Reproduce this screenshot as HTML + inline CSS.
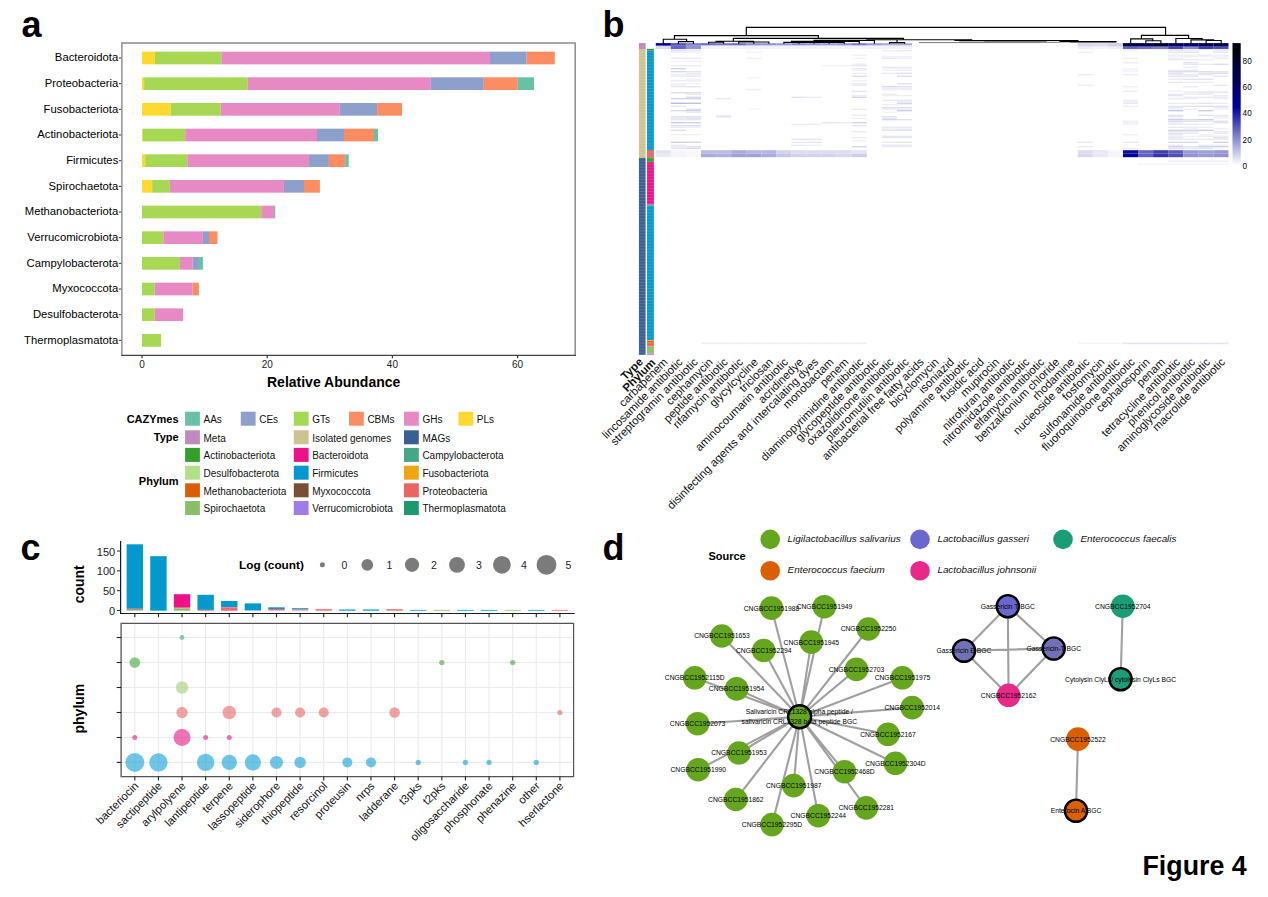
<!DOCTYPE html>
<html><head><meta charset="utf-8"><title>Figure 4</title>
<style>
html,body{margin:0;padding:0;background:#fff;}
body{width:1268px;height:897px;overflow:hidden;}
svg{display:block;font-family:"Liberation Sans",Arial,Helvetica,sans-serif;}
</style></head><body>
<svg width="1268" height="897" viewBox="0 0 1268 897">
<rect width="1268" height="897" fill="#fff"/>
<text x="21.50" y="36.60" font-size="36" text-anchor="start" font-weight="bold" fill="#000" >a</text>
<text x="602.50" y="36.60" font-size="36" text-anchor="start" font-weight="bold" fill="#000" >b</text>
<text x="20.50" y="559.60" font-size="36" text-anchor="start" font-weight="bold" fill="#000" >c</text>
<text x="602.50" y="560.30" font-size="36" text-anchor="start" font-weight="bold" fill="#000" >d</text>
<text x="1246.70" y="875.00" font-size="26.8" text-anchor="end" font-weight="bold" fill="#000" >Figure 4</text>
<rect x="142.00" y="51.65" width="13.00" height="12.70" fill="#FFD92F" />
<rect x="155.00" y="51.65" width="66.30" height="12.70" fill="#A6D854" />
<rect x="221.30" y="51.65" width="268.70" height="12.70" fill="#E78AC3" />
<rect x="490.00" y="51.65" width="36.70" height="12.70" fill="#8DA0CB" />
<rect x="526.70" y="51.65" width="28.10" height="12.70" fill="#FC8D62" />
<text x="118.30" y="61.20" font-size="11.3" text-anchor="end" fill="#000" >Bacteroidota</text>
<line x1="118.80" y1="58.00" x2="121.50" y2="58.00" stroke="#333" stroke-width="1" />
<rect x="142.00" y="77.32" width="2.10" height="12.70" fill="#FFD92F" />
<rect x="144.10" y="77.32" width="103.70" height="12.70" fill="#A6D854" />
<rect x="247.80" y="77.32" width="183.00" height="12.70" fill="#E78AC3" />
<rect x="430.80" y="77.32" width="53.00" height="12.70" fill="#8DA0CB" />
<rect x="483.80" y="77.32" width="33.90" height="12.70" fill="#FC8D62" />
<rect x="517.70" y="77.32" width="16.30" height="12.70" fill="#66C2A5" />
<text x="118.30" y="86.87" font-size="11.3" text-anchor="end" fill="#000" >Proteobacteria</text>
<line x1="118.80" y1="83.67" x2="121.50" y2="83.67" stroke="#333" stroke-width="1" />
<rect x="142.00" y="102.99" width="28.60" height="12.70" fill="#FFD92F" />
<rect x="170.60" y="102.99" width="50.00" height="12.70" fill="#A6D854" />
<rect x="220.60" y="102.99" width="119.10" height="12.70" fill="#E78AC3" />
<rect x="339.70" y="102.99" width="37.40" height="12.70" fill="#8DA0CB" />
<rect x="377.10" y="102.99" width="24.90" height="12.70" fill="#FC8D62" />
<text x="118.30" y="112.54" font-size="11.3" text-anchor="end" fill="#000" >Fusobacteriota</text>
<line x1="118.80" y1="109.34" x2="121.50" y2="109.34" stroke="#333" stroke-width="1" />
<rect x="142.00" y="128.66" width="0.80" height="12.70" fill="#FFD92F" />
<rect x="142.80" y="128.66" width="42.40" height="12.70" fill="#A6D854" />
<rect x="185.20" y="128.66" width="131.80" height="12.70" fill="#E78AC3" />
<rect x="317.00" y="128.66" width="27.00" height="12.70" fill="#8DA0CB" />
<rect x="344.00" y="128.66" width="30.00" height="12.70" fill="#FC8D62" />
<rect x="374.00" y="128.66" width="4.00" height="12.70" fill="#66C2A5" />
<text x="118.30" y="138.21" font-size="11.3" text-anchor="end" fill="#000" >Actinobacteriota</text>
<line x1="118.80" y1="135.01" x2="121.50" y2="135.01" stroke="#333" stroke-width="1" />
<rect x="142.00" y="154.33" width="3.10" height="12.70" fill="#FFD92F" />
<rect x="145.10" y="154.33" width="42.20" height="12.70" fill="#A6D854" />
<rect x="187.30" y="154.33" width="121.60" height="12.70" fill="#E78AC3" />
<rect x="308.90" y="154.33" width="20.00" height="12.70" fill="#8DA0CB" />
<rect x="328.90" y="154.33" width="16.30" height="12.70" fill="#FC8D62" />
<rect x="345.20" y="154.33" width="3.50" height="12.70" fill="#66C2A5" />
<text x="118.30" y="163.88" font-size="11.3" text-anchor="end" fill="#000" >Firmicutes</text>
<line x1="118.80" y1="160.68" x2="121.50" y2="160.68" stroke="#333" stroke-width="1" />
<rect x="142.00" y="180.00" width="10.20" height="12.70" fill="#FFD92F" />
<rect x="152.20" y="180.00" width="17.60" height="12.70" fill="#A6D854" />
<rect x="169.80" y="180.00" width="114.10" height="12.70" fill="#E78AC3" />
<rect x="283.90" y="180.00" width="20.10" height="12.70" fill="#8DA0CB" />
<rect x="304.00" y="180.00" width="15.90" height="12.70" fill="#FC8D62" />
<text x="118.30" y="189.55" font-size="11.3" text-anchor="end" fill="#000" >Spirochaetota</text>
<line x1="118.80" y1="186.35" x2="121.50" y2="186.35" stroke="#333" stroke-width="1" />
<rect x="142.00" y="205.67" width="119.20" height="12.70" fill="#A6D854" />
<rect x="261.20" y="205.67" width="12.90" height="12.70" fill="#E78AC3" />
<rect x="274.10" y="205.67" width="1.20" height="12.70" fill="#66C2A5" />
<text x="118.30" y="215.22" font-size="11.3" text-anchor="end" fill="#000" >Methanobacteriota</text>
<line x1="118.80" y1="212.02" x2="121.50" y2="212.02" stroke="#333" stroke-width="1" />
<rect x="142.00" y="231.34" width="21.30" height="12.70" fill="#A6D854" />
<rect x="163.30" y="231.34" width="39.60" height="12.70" fill="#E78AC3" />
<rect x="202.90" y="231.34" width="6.10" height="12.70" fill="#8DA0CB" />
<rect x="209.00" y="231.34" width="8.50" height="12.70" fill="#FC8D62" />
<text x="118.30" y="240.89" font-size="11.3" text-anchor="end" fill="#000" >Verrucomicrobiota</text>
<line x1="118.80" y1="237.69" x2="121.50" y2="237.69" stroke="#333" stroke-width="1" />
<rect x="142.00" y="257.01" width="37.90" height="12.70" fill="#A6D854" />
<rect x="179.90" y="257.01" width="12.70" height="12.70" fill="#E78AC3" />
<rect x="192.60" y="257.01" width="6.30" height="12.70" fill="#8DA0CB" />
<rect x="198.90" y="257.01" width="4.00" height="12.70" fill="#66C2A5" />
<text x="118.30" y="266.56" font-size="11.3" text-anchor="end" fill="#000" >Campylobacterota</text>
<line x1="118.80" y1="263.36" x2="121.50" y2="263.36" stroke="#333" stroke-width="1" />
<rect x="142.00" y="282.68" width="12.70" height="12.70" fill="#A6D854" />
<rect x="154.70" y="282.68" width="37.90" height="12.70" fill="#E78AC3" />
<rect x="192.60" y="282.68" width="6.30" height="12.70" fill="#FC8D62" />
<text x="118.30" y="292.23" font-size="11.3" text-anchor="end" fill="#000" >Myxococcota</text>
<line x1="118.80" y1="289.03" x2="121.50" y2="289.03" stroke="#333" stroke-width="1" />
<rect x="142.00" y="308.35" width="12.70" height="12.70" fill="#A6D854" />
<rect x="154.70" y="308.35" width="28.30" height="12.70" fill="#E78AC3" />
<text x="118.30" y="317.90" font-size="11.3" text-anchor="end" fill="#000" >Desulfobacterota</text>
<line x1="118.80" y1="314.70" x2="121.50" y2="314.70" stroke="#333" stroke-width="1" />
<rect x="142.00" y="334.02" width="19.10" height="12.70" fill="#A6D854" />
<text x="118.30" y="343.57" font-size="11.3" text-anchor="end" fill="#000" >Thermoplasmatota</text>
<line x1="118.80" y1="340.37" x2="121.50" y2="340.37" stroke="#333" stroke-width="1" />
<path d="M121.9 42.9 H575.2 V355.3" fill="none" stroke="#8c8c8c" stroke-width="1.5" stroke-linejoin="round"/>
<line x1="121.90" y1="42.20" x2="121.90" y2="356.00" stroke="#8a8a8a" stroke-width="1.4" />
<line x1="121.20" y1="355.30" x2="575.90" y2="355.30" stroke="#444" stroke-width="1.3" />
<line x1="142.00" y1="355.30" x2="142.00" y2="358.20" stroke="#333" stroke-width="1.2" />
<text x="142.00" y="367.60" font-size="10" text-anchor="middle" fill="#222" >0</text>
<line x1="267.20" y1="355.30" x2="267.20" y2="358.20" stroke="#333" stroke-width="1.2" />
<text x="267.20" y="367.60" font-size="10" text-anchor="middle" fill="#222" >20</text>
<line x1="392.40" y1="355.30" x2="392.40" y2="358.20" stroke="#333" stroke-width="1.2" />
<text x="392.40" y="367.60" font-size="10" text-anchor="middle" fill="#222" >40</text>
<line x1="517.60" y1="355.30" x2="517.60" y2="358.20" stroke="#333" stroke-width="1.2" />
<text x="517.60" y="367.60" font-size="10" text-anchor="middle" fill="#222" >60</text>
<text x="267.00" y="387.10" font-size="14" text-anchor="start" font-weight="bold" fill="#000" >Relative Abundance</text>
<text x="178.60" y="422.70" font-size="11" text-anchor="end" font-weight="bold" fill="#000" >CAZYmes</text>
<rect x="185.10" y="411.70" width="14.80" height="14.00" fill="#66C2A5" />
<text x="203.50" y="422.90" font-size="10" text-anchor="start" fill="#111" >AAs</text>
<rect x="240.80" y="411.70" width="14.80" height="14.00" fill="#8DA0CB" />
<text x="259.20" y="422.90" font-size="10" text-anchor="start" fill="#111" >CEs</text>
<rect x="293.80" y="411.70" width="14.80" height="14.00" fill="#A6D854" />
<text x="312.20" y="422.90" font-size="10" text-anchor="start" fill="#111" >GTs</text>
<rect x="349.00" y="411.70" width="14.80" height="14.00" fill="#FC8D62" />
<text x="367.40" y="422.90" font-size="10" text-anchor="start" fill="#111" >CBMs</text>
<rect x="404.00" y="411.70" width="14.80" height="14.00" fill="#E78AC3" />
<text x="422.40" y="422.90" font-size="10" text-anchor="start" fill="#111" >GHs</text>
<rect x="458.40" y="411.70" width="14.80" height="14.00" fill="#FFD92F" />
<text x="476.80" y="422.90" font-size="10" text-anchor="start" fill="#111" >PLs</text>
<text x="178.60" y="441.30" font-size="11" text-anchor="end" font-weight="bold" fill="#000" >Type</text>
<rect x="185.10" y="430.30" width="14.80" height="14.00" fill="#BF8BBA" />
<text x="203.50" y="441.50" font-size="10" text-anchor="start" fill="#111" >Meta</text>
<rect x="293.80" y="430.30" width="14.80" height="14.00" fill="#CCC393" />
<text x="312.20" y="441.50" font-size="10" text-anchor="start" fill="#111" >Isolated genomes</text>
<rect x="404.00" y="430.30" width="14.80" height="14.00" fill="#3A6093" />
<text x="422.40" y="441.50" font-size="10" text-anchor="start" fill="#111" >MAGs</text>
<text x="178.60" y="485.00" font-size="11" text-anchor="end" font-weight="bold" fill="#000" >Phylum</text>
<rect x="185.10" y="447.90" width="14.80" height="14.00" fill="#33A02C" />
<text x="203.50" y="459.10" font-size="10" text-anchor="start" fill="#111" >Actinobacteriota</text>
<rect x="293.80" y="447.90" width="14.80" height="14.00" fill="#EC1289" />
<text x="312.20" y="459.10" font-size="10" text-anchor="start" fill="#111" >Bacteroidota</text>
<rect x="404.00" y="447.90" width="14.80" height="14.00" fill="#45A787" />
<text x="422.40" y="459.10" font-size="10" text-anchor="start" fill="#111" >Campylobacterota</text>
<rect x="185.10" y="465.70" width="14.80" height="14.00" fill="#B2DF8A" />
<text x="203.50" y="476.90" font-size="10" text-anchor="start" fill="#111" >Desulfobacterota</text>
<rect x="293.80" y="465.70" width="14.80" height="14.00" fill="#0399CD" />
<text x="312.20" y="476.90" font-size="10" text-anchor="start" fill="#111" >Firmicutes</text>
<rect x="404.00" y="465.70" width="14.80" height="14.00" fill="#EDA713" />
<text x="422.40" y="476.90" font-size="10" text-anchor="start" fill="#111" >Fusobacteriota</text>
<rect x="185.10" y="483.30" width="14.80" height="14.00" fill="#D95F02" />
<text x="203.50" y="494.50" font-size="10" text-anchor="start" fill="#111" >Methanobacteriota</text>
<rect x="293.80" y="483.30" width="14.80" height="14.00" fill="#7B4F35" />
<text x="312.20" y="494.50" font-size="10" text-anchor="start" fill="#111" >Myxococcota</text>
<rect x="404.00" y="483.30" width="14.80" height="14.00" fill="#EB6464" />
<text x="422.40" y="494.50" font-size="10" text-anchor="start" fill="#111" >Proteobacteria</text>
<rect x="185.10" y="501.00" width="14.80" height="14.00" fill="#8CBE6A" />
<text x="203.50" y="512.20" font-size="10" text-anchor="start" fill="#111" >Spirochaetota</text>
<rect x="293.80" y="501.00" width="14.80" height="14.00" fill="#A07CE8" />
<text x="312.20" y="512.20" font-size="10" text-anchor="start" fill="#111" >Verrucomicrobiota</text>
<rect x="404.00" y="501.00" width="14.80" height="14.00" fill="#1B9A6F" />
<text x="422.40" y="512.20" font-size="10" text-anchor="start" fill="#111" >Thermoplasmatota</text>
<!-- panel b -->
<rect x="638.90" y="43.10" width="6.70" height="6.00" fill="#BF8BBA" />
<rect x="638.90" y="49.10" width="6.70" height="108.80" fill="#CCC393" />
<rect x="638.90" y="157.90" width="6.70" height="196.90" fill="#3A6093" />
<rect x="647.00" y="48.90" width="6.90" height="1.80" fill="#33A02C" />
<rect x="647.00" y="50.70" width="6.90" height="99.30" fill="#0399CD" />
<rect x="647.00" y="150.00" width="6.90" height="7.90" fill="#EB6464" />
<rect x="647.00" y="157.90" width="6.90" height="4.20" fill="#33A02C" />
<rect x="647.00" y="162.10" width="6.90" height="42.50" fill="#EC1289" />
<rect x="647.00" y="204.60" width="6.90" height="1.00" fill="#45A787" />
<rect x="647.00" y="205.60" width="6.90" height="134.50" fill="#0399CD" />
<rect x="647.00" y="340.10" width="6.90" height="0.80" fill="#EDA713" />
<rect x="647.00" y="340.90" width="6.90" height="1.90" fill="#D95F02" />
<rect x="647.00" y="342.80" width="6.90" height="3.40" fill="#EB6464" />
<rect x="647.00" y="346.20" width="6.90" height="7.30" fill="#8CBE6A" />
<rect x="647.00" y="353.50" width="6.90" height="1.30" fill="#A07CE8" />
<path d="M638.9 52.13H645.6M647.0 52.13H653.9M638.9 55.16H645.6M647.0 55.16H653.9M638.9 58.19H645.6M647.0 58.19H653.9M638.9 61.22H645.6M647.0 61.22H653.9M638.9 64.25H645.6M647.0 64.25H653.9M638.9 67.28H645.6M647.0 67.28H653.9M638.9 70.31H645.6M647.0 70.31H653.9M638.9 73.34H645.6M647.0 73.34H653.9M638.9 76.37H645.6M647.0 76.37H653.9M638.9 79.40H645.6M647.0 79.40H653.9M638.9 82.43H645.6M647.0 82.43H653.9M638.9 85.46H645.6M647.0 85.46H653.9M638.9 88.49H645.6M647.0 88.49H653.9M638.9 91.52H645.6M647.0 91.52H653.9M638.9 94.55H645.6M647.0 94.55H653.9M638.9 97.58H645.6M647.0 97.58H653.9M638.9 100.61H645.6M647.0 100.61H653.9M638.9 103.64H645.6M647.0 103.64H653.9M638.9 106.67H645.6M647.0 106.67H653.9M638.9 109.70H645.6M647.0 109.70H653.9M638.9 112.73H645.6M647.0 112.73H653.9M638.9 115.76H645.6M647.0 115.76H653.9M638.9 118.79H645.6M647.0 118.79H653.9M638.9 121.82H645.6M647.0 121.82H653.9M638.9 124.85H645.6M647.0 124.85H653.9M638.9 127.88H645.6M647.0 127.88H653.9M638.9 130.91H645.6M647.0 130.91H653.9M638.9 133.94H645.6M647.0 133.94H653.9M638.9 136.97H645.6M647.0 136.97H653.9M638.9 140.00H645.6M647.0 140.00H653.9M638.9 143.03H645.6M647.0 143.03H653.9M638.9 146.06H645.6M647.0 146.06H653.9M638.9 149.09H645.6M647.0 149.09H653.9M638.9 152.12H645.6M647.0 152.12H653.9M638.9 155.15H645.6M647.0 155.15H653.9M638.9 158.18H645.6M647.0 158.18H653.9M638.9 161.21H645.6M647.0 161.21H653.9M638.9 164.24H645.6M647.0 164.24H653.9M638.9 167.27H645.6M647.0 167.27H653.9M638.9 170.30H645.6M647.0 170.30H653.9M638.9 173.33H645.6M647.0 173.33H653.9M638.9 176.36H645.6M647.0 176.36H653.9M638.9 179.39H645.6M647.0 179.39H653.9M638.9 182.42H645.6M647.0 182.42H653.9M638.9 185.45H645.6M647.0 185.45H653.9M638.9 188.48H645.6M647.0 188.48H653.9M638.9 191.51H645.6M647.0 191.51H653.9M638.9 194.54H645.6M647.0 194.54H653.9M638.9 197.57H645.6M647.0 197.57H653.9M638.9 200.60H645.6M647.0 200.60H653.9M638.9 203.63H645.6M647.0 203.63H653.9M638.9 206.66H645.6M647.0 206.66H653.9M638.9 209.69H645.6M647.0 209.69H653.9M638.9 212.72H645.6M647.0 212.72H653.9M638.9 215.75H645.6M647.0 215.75H653.9M638.9 218.78H645.6M647.0 218.78H653.9M638.9 221.81H645.6M647.0 221.81H653.9M638.9 224.84H645.6M647.0 224.84H653.9M638.9 227.87H645.6M647.0 227.87H653.9M638.9 230.90H645.6M647.0 230.90H653.9M638.9 233.93H645.6M647.0 233.93H653.9M638.9 236.96H645.6M647.0 236.96H653.9M638.9 239.99H645.6M647.0 239.99H653.9M638.9 243.02H645.6M647.0 243.02H653.9M638.9 246.05H645.6M647.0 246.05H653.9M638.9 249.08H645.6M647.0 249.08H653.9M638.9 252.11H645.6M647.0 252.11H653.9M638.9 255.14H645.6M647.0 255.14H653.9M638.9 258.17H645.6M647.0 258.17H653.9M638.9 261.20H645.6M647.0 261.20H653.9M638.9 264.23H645.6M647.0 264.23H653.9M638.9 267.26H645.6M647.0 267.26H653.9M638.9 270.29H645.6M647.0 270.29H653.9M638.9 273.32H645.6M647.0 273.32H653.9M638.9 276.35H645.6M647.0 276.35H653.9M638.9 279.38H645.6M647.0 279.38H653.9M638.9 282.41H645.6M647.0 282.41H653.9M638.9 285.44H645.6M647.0 285.44H653.9M638.9 288.47H645.6M647.0 288.47H653.9M638.9 291.50H645.6M647.0 291.50H653.9M638.9 294.53H645.6M647.0 294.53H653.9M638.9 297.56H645.6M647.0 297.56H653.9M638.9 300.59H645.6M647.0 300.59H653.9M638.9 303.62H645.6M647.0 303.62H653.9M638.9 306.65H645.6M647.0 306.65H653.9M638.9 309.68H645.6M647.0 309.68H653.9M638.9 312.71H645.6M647.0 312.71H653.9M638.9 315.74H645.6M647.0 315.74H653.9M638.9 318.77H645.6M647.0 318.77H653.9M638.9 321.80H645.6M647.0 321.80H653.9M638.9 324.83H645.6M647.0 324.83H653.9M638.9 327.86H645.6M647.0 327.86H653.9M638.9 330.89H645.6M647.0 330.89H653.9M638.9 333.92H645.6M647.0 333.92H653.9M638.9 336.95H645.6M647.0 336.95H653.9M638.9 339.98H645.6M647.0 339.98H653.9M638.9 343.01H645.6M647.0 343.01H653.9M638.9 346.04H645.6M647.0 346.04H653.9M638.9 349.07H645.6M647.0 349.07H653.9M638.9 352.10H645.6M647.0 352.10H653.9" stroke="#ffffff" stroke-opacity="0.18" stroke-width="0.8" fill="none"/>
<rect x="655.80" y="43.10" width="15.07" height="2.70" fill="#000091"/>
<rect x="655.80" y="45.80" width="15.07" height="3.30" fill="#ddddf2"/>
<rect x="670.87" y="43.10" width="15.07" height="2.70" fill="#5555bc"/>
<rect x="670.87" y="45.80" width="15.07" height="3.30" fill="#6666c2"/>
<rect x="685.94" y="43.10" width="15.07" height="2.70" fill="#8282ce"/>
<rect x="685.94" y="45.80" width="15.07" height="3.30" fill="#9393d4"/>
<rect x="701.01" y="43.20" width="15.07" height="2.40" fill="#6c6cc5"/>
<rect x="701.01" y="45.60" width="15.07" height="3.50" fill="#f1f1f9"/>
<rect x="716.08" y="43.20" width="15.07" height="2.40" fill="#7777c9"/>
<rect x="716.08" y="45.60" width="15.07" height="3.50" fill="#f1f1f9"/>
<rect x="731.15" y="43.20" width="15.07" height="2.40" fill="#6c6cc5"/>
<rect x="731.15" y="45.60" width="15.07" height="3.50" fill="#f1f1f9"/>
<rect x="746.22" y="43.20" width="15.07" height="2.40" fill="#8e8ed2"/>
<rect x="746.22" y="45.60" width="15.07" height="3.50" fill="#f1f1f9"/>
<rect x="761.29" y="43.20" width="15.07" height="2.40" fill="#9393d4"/>
<rect x="761.29" y="45.60" width="15.07" height="3.50" fill="#f1f1f9"/>
<rect x="776.36" y="43.20" width="15.07" height="2.40" fill="#9999d7"/>
<rect x="776.36" y="45.60" width="15.07" height="3.50" fill="#f1f1f9"/>
<rect x="791.43" y="43.20" width="15.07" height="2.40" fill="#8888d0"/>
<rect x="791.43" y="45.60" width="15.07" height="3.50" fill="#f1f1f9"/>
<rect x="806.50" y="43.20" width="15.07" height="2.40" fill="#9393d4"/>
<rect x="806.50" y="45.60" width="15.07" height="3.50" fill="#f1f1f9"/>
<rect x="821.57" y="43.20" width="15.07" height="2.40" fill="#9999d7"/>
<rect x="821.57" y="45.60" width="15.07" height="3.50" fill="#f1f1f9"/>
<rect x="836.64" y="43.20" width="15.07" height="2.40" fill="#9393d4"/>
<rect x="836.64" y="45.60" width="15.07" height="3.50" fill="#f1f1f9"/>
<rect x="851.71" y="43.20" width="15.07" height="2.40" fill="#7777c9"/>
<rect x="851.71" y="45.60" width="15.07" height="3.50" fill="#f1f1f9"/>
<rect x="866.78" y="43.20" width="15.07" height="2.40" fill="#9999d7"/>
<rect x="866.78" y="45.60" width="15.07" height="3.50" fill="#f1f1f9"/>
<rect x="881.85" y="43.20" width="15.07" height="2.40" fill="#aaaadd"/>
<rect x="881.85" y="45.60" width="15.07" height="3.50" fill="#f1f1f9"/>
<rect x="896.92" y="43.20" width="15.07" height="2.40" fill="#aaaadd"/>
<rect x="896.92" y="45.60" width="15.07" height="3.50" fill="#f1f1f9"/>
<rect x="1077.76" y="43.10" width="15.07" height="3.60" fill="#d7d7ef"/>
<rect x="1077.76" y="46.70" width="15.07" height="2.40" fill="#eeeef8"/>
<rect x="1092.83" y="43.10" width="15.07" height="3.60" fill="#ddddf2"/>
<rect x="1092.83" y="46.70" width="15.07" height="2.40" fill="#f4f4fb"/>
<rect x="1107.90" y="43.10" width="15.07" height="3.60" fill="#d2d2ed"/>
<rect x="1107.90" y="46.70" width="15.07" height="2.40" fill="#eeeef8"/>
<rect x="1122.97" y="43.10" width="15.07" height="3.60" fill="#000045"/>
<rect x="1122.97" y="46.70" width="15.07" height="2.40" fill="#6666c2"/>
<rect x="1138.04" y="43.10" width="15.07" height="3.60" fill="#000058"/>
<rect x="1138.04" y="46.70" width="15.07" height="2.40" fill="#7171c7"/>
<rect x="1153.11" y="43.10" width="15.07" height="3.60" fill="#000032"/>
<rect x="1153.11" y="46.70" width="15.07" height="2.40" fill="#7d7dcb"/>
<rect x="1168.18" y="43.10" width="15.07" height="3.60" fill="#000065"/>
<rect x="1168.18" y="46.70" width="15.07" height="2.40" fill="#4444b5"/>
<rect x="1183.25" y="43.10" width="15.07" height="3.60" fill="#00006b"/>
<rect x="1183.25" y="46.70" width="15.07" height="2.40" fill="#8888d0"/>
<rect x="1198.32" y="43.10" width="15.07" height="3.60" fill="#000058"/>
<rect x="1198.32" y="46.70" width="15.07" height="2.40" fill="#3e3eb3"/>
<rect x="1213.39" y="43.10" width="15.07" height="3.60" fill="#000052"/>
<rect x="1213.39" y="46.70" width="15.07" height="2.40" fill="#4f4fb9"/>
<rect x="670.87" y="50.20" width="15.07" height="1.10" fill="#d9d9f0"/>
<rect x="685.94" y="50.20" width="15.07" height="1.10" fill="#e2e2f4"/>
<rect x="881.85" y="50.20" width="15.07" height="1.10" fill="#ebebf7"/>
<rect x="896.92" y="50.20" width="15.07" height="1.10" fill="#e1e1f3"/>
<rect x="1168.18" y="50.20" width="15.07" height="1.10" fill="#e5e5f5"/>
<rect x="1183.25" y="50.20" width="15.07" height="1.10" fill="#ebebf7"/>
<rect x="1213.39" y="50.20" width="15.07" height="1.10" fill="#e6e6f5"/>
<rect x="1122.97" y="50.20" width="15.07" height="1.10" fill="#f1f1f9"/>
<rect x="670.87" y="51.70" width="15.07" height="1.10" fill="#ebebf7"/>
<rect x="685.94" y="51.70" width="15.07" height="1.10" fill="#efeff9"/>
<rect x="1168.18" y="51.70" width="15.07" height="1.10" fill="#e2e2f4"/>
<rect x="1183.25" y="51.70" width="15.07" height="1.10" fill="#ddddf2"/>
<rect x="1213.39" y="51.70" width="15.07" height="1.10" fill="#e1e1f3"/>
<rect x="746.22" y="51.70" width="15.07" height="1.10" fill="#f0f0f9"/>
<rect x="1077.76" y="51.70" width="15.07" height="1.10" fill="#eaeaf7"/>
<rect x="851.71" y="54.70" width="15.07" height="1.10" fill="#eeeef8"/>
<rect x="1168.18" y="54.70" width="15.07" height="1.10" fill="#eaeaf7"/>
<rect x="1183.25" y="54.70" width="15.07" height="1.10" fill="#efeff9"/>
<rect x="1198.32" y="54.70" width="15.07" height="1.10" fill="#e9e9f6"/>
<rect x="1213.39" y="54.70" width="15.07" height="1.10" fill="#ededf8"/>
<rect x="881.85" y="56.20" width="15.07" height="1.10" fill="#eeeef8"/>
<rect x="896.92" y="56.20" width="15.07" height="1.10" fill="#eaeaf7"/>
<rect x="1168.18" y="56.20" width="15.07" height="1.10" fill="#f0f0f9"/>
<rect x="1183.25" y="56.20" width="15.07" height="1.10" fill="#ebebf7"/>
<rect x="1198.32" y="56.20" width="15.07" height="1.10" fill="#efeff9"/>
<rect x="1213.39" y="56.20" width="15.07" height="1.10" fill="#ededf8"/>
<rect x="670.87" y="57.70" width="15.07" height="1.10" fill="#e3e3f4"/>
<rect x="685.94" y="57.70" width="15.07" height="1.10" fill="#e1e1f3"/>
<rect x="851.71" y="57.70" width="15.07" height="1.10" fill="#f1f1fa"/>
<rect x="881.85" y="57.70" width="15.07" height="1.10" fill="#e2e2f4"/>
<rect x="896.92" y="57.70" width="15.07" height="1.10" fill="#ebebf7"/>
<rect x="1168.18" y="57.70" width="15.07" height="1.10" fill="#ececf7"/>
<rect x="1213.39" y="57.70" width="15.07" height="1.10" fill="#e8e8f6"/>
<rect x="746.22" y="57.70" width="15.07" height="1.10" fill="#eaeaf7"/>
<rect x="1122.97" y="57.70" width="15.07" height="1.10" fill="#efeff8"/>
<rect x="1168.18" y="59.20" width="15.07" height="1.10" fill="#e4e4f4"/>
<rect x="1183.25" y="59.20" width="15.07" height="1.10" fill="#e3e3f4"/>
<rect x="1198.32" y="59.20" width="15.07" height="1.10" fill="#eaeaf7"/>
<rect x="670.87" y="60.70" width="15.07" height="1.10" fill="#f0f0f9"/>
<rect x="685.94" y="60.70" width="15.07" height="1.10" fill="#ececf8"/>
<rect x="1183.25" y="62.20" width="15.07" height="1.10" fill="#dedef2"/>
<rect x="1122.97" y="62.20" width="15.07" height="1.10" fill="#eaeaf7"/>
<rect x="851.71" y="63.70" width="15.07" height="1.10" fill="#e9e9f6"/>
<rect x="1183.25" y="63.70" width="15.07" height="1.10" fill="#e0e0f3"/>
<rect x="1198.32" y="63.70" width="15.07" height="1.10" fill="#e4e4f4"/>
<rect x="1213.39" y="63.70" width="15.07" height="1.10" fill="#d5d5ee"/>
<rect x="670.87" y="65.20" width="15.07" height="1.10" fill="#e4e4f4"/>
<rect x="685.94" y="65.20" width="15.07" height="1.10" fill="#e6e6f5"/>
<rect x="851.71" y="65.20" width="15.07" height="1.10" fill="#e1e1f3"/>
<rect x="821.57" y="65.20" width="15.07" height="1.10" fill="#f0f0f9"/>
<rect x="836.64" y="65.20" width="15.07" height="1.10" fill="#eeeef8"/>
<rect x="881.85" y="66.70" width="15.07" height="1.10" fill="#e0e0f3"/>
<rect x="896.92" y="66.70" width="15.07" height="1.10" fill="#e3e3f4"/>
<rect x="1183.25" y="66.70" width="15.07" height="1.10" fill="#e8e8f6"/>
<rect x="670.87" y="68.20" width="15.07" height="1.10" fill="#c7c7e9"/>
<rect x="851.71" y="68.20" width="15.07" height="1.10" fill="#e1e1f3"/>
<rect x="881.85" y="68.20" width="15.07" height="1.10" fill="#f0f0f9"/>
<rect x="896.92" y="68.20" width="15.07" height="1.10" fill="#f0f0f9"/>
<rect x="1122.97" y="68.20" width="15.07" height="1.10" fill="#f0f0f9"/>
<rect x="851.71" y="69.70" width="15.07" height="1.10" fill="#eaeaf7"/>
<rect x="881.85" y="69.70" width="15.07" height="1.10" fill="#eeeef8"/>
<rect x="896.92" y="69.70" width="15.07" height="1.10" fill="#e9e9f6"/>
<rect x="1168.18" y="69.70" width="15.07" height="1.10" fill="#e8e8f6"/>
<rect x="1183.25" y="69.70" width="15.07" height="1.10" fill="#e2e2f3"/>
<rect x="1122.97" y="69.70" width="15.07" height="1.10" fill="#f0f0f9"/>
<rect x="670.87" y="71.20" width="15.07" height="1.10" fill="#cccceb"/>
<rect x="685.94" y="71.20" width="15.07" height="1.10" fill="#dcdcf1"/>
<rect x="1168.18" y="71.20" width="15.07" height="1.10" fill="#d5d5ee"/>
<rect x="1183.25" y="71.20" width="15.07" height="1.10" fill="#d4d4ee"/>
<rect x="1198.32" y="71.20" width="15.07" height="1.10" fill="#d4d4ee"/>
<rect x="1213.39" y="71.20" width="15.07" height="1.10" fill="#dedef2"/>
<rect x="1122.97" y="71.20" width="15.07" height="1.10" fill="#f1f1f9"/>
<rect x="685.94" y="72.70" width="15.07" height="1.10" fill="#e5e5f5"/>
<rect x="851.71" y="72.70" width="15.07" height="1.10" fill="#ececf8"/>
<rect x="881.85" y="72.70" width="15.07" height="1.10" fill="#e4e4f4"/>
<rect x="896.92" y="72.70" width="15.07" height="1.10" fill="#d8d8ef"/>
<rect x="1168.18" y="72.70" width="15.07" height="1.10" fill="#ddddf2"/>
<rect x="1198.32" y="72.70" width="15.07" height="1.10" fill="#ddddf2"/>
<rect x="1213.39" y="72.70" width="15.07" height="1.10" fill="#d5d5ee"/>
<rect x="670.87" y="74.20" width="15.07" height="1.10" fill="#e7e7f5"/>
<rect x="685.94" y="74.20" width="15.07" height="1.10" fill="#e9e9f6"/>
<rect x="1168.18" y="74.20" width="15.07" height="1.10" fill="#e1e1f3"/>
<rect x="1183.25" y="74.20" width="15.07" height="1.10" fill="#e4e4f4"/>
<rect x="1198.32" y="74.20" width="15.07" height="1.10" fill="#e2e2f3"/>
<rect x="1122.97" y="74.20" width="15.07" height="1.10" fill="#e5e5f5"/>
<rect x="1077.76" y="74.20" width="15.07" height="1.10" fill="#e4e4f4"/>
<rect x="670.87" y="75.70" width="15.07" height="1.10" fill="#e9e9f6"/>
<rect x="685.94" y="75.70" width="15.07" height="1.10" fill="#e5e5f5"/>
<rect x="851.71" y="75.70" width="15.07" height="1.10" fill="#d4d4ee"/>
<rect x="896.92" y="75.70" width="15.07" height="1.10" fill="#d4d4ee"/>
<rect x="1168.18" y="75.70" width="15.07" height="1.10" fill="#e0e0f3"/>
<rect x="1183.25" y="75.70" width="15.07" height="1.10" fill="#ddddf1"/>
<rect x="1213.39" y="75.70" width="15.07" height="1.10" fill="#dedef2"/>
<rect x="746.22" y="77.20" width="15.07" height="1.10" fill="#f2f2fa"/>
<rect x="685.94" y="78.70" width="15.07" height="1.10" fill="#efeff9"/>
<rect x="1168.18" y="78.70" width="15.07" height="1.10" fill="#e6e6f5"/>
<rect x="1183.25" y="78.70" width="15.07" height="1.10" fill="#dbdbf1"/>
<rect x="1198.32" y="78.70" width="15.07" height="1.10" fill="#dbdbf1"/>
<rect x="670.87" y="80.20" width="15.07" height="1.10" fill="#e7e7f6"/>
<rect x="685.94" y="80.20" width="15.07" height="1.10" fill="#e9e9f6"/>
<rect x="851.71" y="80.20" width="15.07" height="1.10" fill="#ececf8"/>
<rect x="1168.18" y="81.70" width="15.07" height="1.10" fill="#e4e4f4"/>
<rect x="1183.25" y="81.70" width="15.07" height="1.10" fill="#e8e8f6"/>
<rect x="1198.32" y="81.70" width="15.07" height="1.10" fill="#e9e9f6"/>
<rect x="670.87" y="83.20" width="15.07" height="1.10" fill="#eeeef8"/>
<rect x="685.94" y="83.20" width="15.07" height="1.10" fill="#f0f0f9"/>
<rect x="851.71" y="83.20" width="15.07" height="1.10" fill="#e5e5f5"/>
<rect x="896.92" y="83.20" width="15.07" height="1.10" fill="#d7d7ef"/>
<rect x="670.87" y="84.70" width="15.07" height="1.10" fill="#ebebf7"/>
<rect x="851.71" y="84.70" width="15.07" height="1.10" fill="#e4e4f4"/>
<rect x="1213.39" y="84.70" width="15.07" height="1.10" fill="#e2e2f3"/>
<rect x="1077.76" y="84.70" width="15.07" height="1.10" fill="#e8e8f6"/>
<rect x="670.87" y="86.20" width="15.07" height="1.10" fill="#e3e3f4"/>
<rect x="685.94" y="86.20" width="15.07" height="1.10" fill="#ddddf1"/>
<rect x="881.85" y="86.20" width="15.07" height="1.10" fill="#d0d0ec"/>
<rect x="896.92" y="86.20" width="15.07" height="1.10" fill="#dadaf0"/>
<rect x="1183.25" y="86.20" width="15.07" height="1.10" fill="#e5e5f5"/>
<rect x="1122.97" y="86.20" width="15.07" height="1.10" fill="#ececf7"/>
<rect x="881.85" y="87.70" width="15.07" height="1.10" fill="#e6e6f5"/>
<rect x="896.92" y="87.70" width="15.07" height="1.10" fill="#e7e7f5"/>
<rect x="881.85" y="89.20" width="15.07" height="1.10" fill="#ebebf7"/>
<rect x="896.92" y="89.20" width="15.07" height="1.10" fill="#ededf8"/>
<rect x="746.22" y="89.20" width="15.07" height="1.10" fill="#ececf8"/>
<rect x="851.71" y="90.70" width="15.07" height="1.10" fill="#dcdcf1"/>
<rect x="1168.18" y="90.70" width="15.07" height="1.10" fill="#ebebf7"/>
<rect x="1183.25" y="90.70" width="15.07" height="1.10" fill="#f0f0f9"/>
<rect x="1198.32" y="90.70" width="15.07" height="1.10" fill="#ececf7"/>
<rect x="1213.39" y="90.70" width="15.07" height="1.10" fill="#ededf8"/>
<rect x="1122.97" y="90.70" width="15.07" height="1.10" fill="#eaeaf7"/>
<rect x="670.87" y="92.20" width="15.07" height="1.10" fill="#d5d5ee"/>
<rect x="685.94" y="92.20" width="15.07" height="1.10" fill="#d0d0ec"/>
<rect x="1183.25" y="92.20" width="15.07" height="1.10" fill="#e8e8f6"/>
<rect x="1198.32" y="92.20" width="15.07" height="1.10" fill="#e2e2f3"/>
<rect x="1213.39" y="92.20" width="15.07" height="1.10" fill="#e5e5f5"/>
<rect x="685.94" y="93.70" width="15.07" height="1.10" fill="#e2e2f4"/>
<rect x="881.85" y="93.70" width="15.07" height="1.10" fill="#e8e8f6"/>
<rect x="1168.18" y="93.70" width="15.07" height="1.10" fill="#e0e0f3"/>
<rect x="1183.25" y="93.70" width="15.07" height="1.10" fill="#ececf8"/>
<rect x="1198.32" y="93.70" width="15.07" height="1.10" fill="#e8e8f6"/>
<rect x="851.71" y="95.20" width="15.07" height="1.10" fill="#e6e6f5"/>
<rect x="881.85" y="95.20" width="15.07" height="1.10" fill="#ededf8"/>
<rect x="896.92" y="95.20" width="15.07" height="1.10" fill="#e6e6f5"/>
<rect x="1168.18" y="95.20" width="15.07" height="1.10" fill="#ddddf1"/>
<rect x="1213.39" y="95.20" width="15.07" height="1.10" fill="#e3e3f4"/>
<rect x="685.94" y="96.70" width="15.07" height="1.10" fill="#cfcfec"/>
<rect x="851.71" y="96.70" width="15.07" height="1.10" fill="#cacaea"/>
<rect x="1183.25" y="96.70" width="15.07" height="1.10" fill="#e2e2f4"/>
<rect x="1198.32" y="96.70" width="15.07" height="1.10" fill="#e1e1f3"/>
<rect x="1213.39" y="96.70" width="15.07" height="1.10" fill="#e7e7f5"/>
<rect x="791.43" y="96.70" width="15.07" height="1.10" fill="#dadaf0"/>
<rect x="806.50" y="96.70" width="15.07" height="1.10" fill="#e3e3f4"/>
<rect x="670.87" y="98.20" width="15.07" height="1.10" fill="#cacaea"/>
<rect x="685.94" y="98.20" width="15.07" height="1.10" fill="#c9c9ea"/>
<rect x="1168.18" y="98.20" width="15.07" height="1.10" fill="#e5e5f5"/>
<rect x="1183.25" y="98.20" width="15.07" height="1.10" fill="#ececf7"/>
<rect x="1213.39" y="98.20" width="15.07" height="1.10" fill="#ededf8"/>
<rect x="716.08" y="98.20" width="15.07" height="1.10" fill="#e0e0f3"/>
<rect x="881.85" y="99.70" width="15.07" height="1.10" fill="#e4e4f4"/>
<rect x="896.92" y="99.70" width="15.07" height="1.10" fill="#e1e1f3"/>
<rect x="1122.97" y="99.70" width="15.07" height="1.10" fill="#ebebf7"/>
<rect x="896.92" y="101.20" width="15.07" height="1.10" fill="#eaeaf7"/>
<rect x="1122.97" y="101.20" width="15.07" height="1.10" fill="#eaeaf7"/>
<rect x="670.87" y="102.70" width="15.07" height="1.10" fill="#a7a7dc"/>
<rect x="685.94" y="102.70" width="15.07" height="1.10" fill="#aaaadd"/>
<rect x="896.92" y="102.70" width="15.07" height="1.10" fill="#cbcbea"/>
<rect x="1168.18" y="102.70" width="15.07" height="1.10" fill="#e6e6f5"/>
<rect x="1183.25" y="102.70" width="15.07" height="1.10" fill="#e4e4f4"/>
<rect x="1198.32" y="102.70" width="15.07" height="1.10" fill="#ddddf2"/>
<rect x="1213.39" y="102.70" width="15.07" height="1.10" fill="#e8e8f6"/>
<rect x="1122.97" y="102.70" width="15.07" height="1.10" fill="#e2e2f3"/>
<rect x="881.85" y="104.20" width="15.07" height="1.10" fill="#ececf8"/>
<rect x="896.92" y="104.20" width="15.07" height="1.10" fill="#ededf8"/>
<rect x="670.87" y="105.70" width="15.07" height="1.10" fill="#e2e2f3"/>
<rect x="1168.18" y="105.70" width="15.07" height="1.10" fill="#e2e2f4"/>
<rect x="1183.25" y="105.70" width="15.07" height="1.10" fill="#dbdbf1"/>
<rect x="1198.32" y="105.70" width="15.07" height="1.10" fill="#d4d4ee"/>
<rect x="1213.39" y="105.70" width="15.07" height="1.10" fill="#dadaf0"/>
<rect x="1122.97" y="105.70" width="15.07" height="1.10" fill="#eaeaf7"/>
<rect x="881.85" y="107.20" width="15.07" height="1.10" fill="#d3d3ee"/>
<rect x="896.92" y="107.20" width="15.07" height="1.10" fill="#d5d5ee"/>
<rect x="1168.18" y="107.20" width="15.07" height="1.10" fill="#e0e0f3"/>
<rect x="1213.39" y="107.20" width="15.07" height="1.10" fill="#e3e3f4"/>
<rect x="685.94" y="108.70" width="15.07" height="1.10" fill="#d7d7ef"/>
<rect x="851.71" y="108.70" width="15.07" height="1.10" fill="#e3e3f4"/>
<rect x="881.85" y="108.70" width="15.07" height="1.10" fill="#e7e7f5"/>
<rect x="896.92" y="108.70" width="15.07" height="1.10" fill="#e7e7f5"/>
<rect x="1168.18" y="108.70" width="15.07" height="1.10" fill="#eeeef8"/>
<rect x="1183.25" y="108.70" width="15.07" height="1.10" fill="#ececf7"/>
<rect x="1213.39" y="108.70" width="15.07" height="1.10" fill="#f1f1fa"/>
<rect x="746.22" y="108.70" width="15.07" height="1.10" fill="#f2f2fa"/>
<rect x="670.87" y="110.20" width="15.07" height="1.10" fill="#d0d0ec"/>
<rect x="685.94" y="110.20" width="15.07" height="1.10" fill="#c5c5e8"/>
<rect x="896.92" y="110.20" width="15.07" height="1.10" fill="#c2c2e7"/>
<rect x="1168.18" y="110.20" width="15.07" height="1.10" fill="#babae4"/>
<rect x="1198.32" y="110.20" width="15.07" height="1.10" fill="#bfbfe5"/>
<rect x="685.94" y="111.70" width="15.07" height="1.10" fill="#e3e3f4"/>
<rect x="881.85" y="111.70" width="15.07" height="1.10" fill="#f1f1f9"/>
<rect x="851.71" y="114.70" width="15.07" height="1.10" fill="#e7e7f6"/>
<rect x="1168.18" y="114.70" width="15.07" height="1.10" fill="#dbdbf1"/>
<rect x="1198.32" y="114.70" width="15.07" height="1.10" fill="#dadaf0"/>
<rect x="1213.39" y="114.70" width="15.07" height="1.10" fill="#e6e6f5"/>
<rect x="716.08" y="114.70" width="15.07" height="1.10" fill="#ededf8"/>
<rect x="670.87" y="116.20" width="15.07" height="1.10" fill="#d9d9f0"/>
<rect x="685.94" y="116.20" width="15.07" height="1.10" fill="#d4d4ee"/>
<rect x="881.85" y="116.20" width="15.07" height="1.10" fill="#dbdbf1"/>
<rect x="1168.18" y="116.20" width="15.07" height="1.10" fill="#e0e0f3"/>
<rect x="1213.39" y="116.20" width="15.07" height="1.10" fill="#e6e6f5"/>
<rect x="716.08" y="116.20" width="15.07" height="1.10" fill="#dadaf0"/>
<rect x="670.87" y="117.70" width="15.07" height="1.10" fill="#e2e2f4"/>
<rect x="685.94" y="117.70" width="15.07" height="1.10" fill="#d9d9f0"/>
<rect x="851.71" y="117.70" width="15.07" height="1.10" fill="#ebebf7"/>
<rect x="881.85" y="117.70" width="15.07" height="1.10" fill="#e0e0f3"/>
<rect x="1168.18" y="117.70" width="15.07" height="1.10" fill="#eeeef8"/>
<rect x="1213.39" y="117.70" width="15.07" height="1.10" fill="#eeeef8"/>
<rect x="670.87" y="119.20" width="15.07" height="1.10" fill="#e1e1f3"/>
<rect x="685.94" y="119.20" width="15.07" height="1.10" fill="#e0e0f3"/>
<rect x="881.85" y="119.20" width="15.07" height="1.10" fill="#ceceec"/>
<rect x="896.92" y="119.20" width="15.07" height="1.10" fill="#dadaf0"/>
<rect x="1168.18" y="119.20" width="15.07" height="1.10" fill="#bdbde5"/>
<rect x="1183.25" y="119.20" width="15.07" height="1.10" fill="#cfcfec"/>
<rect x="1198.32" y="119.20" width="15.07" height="1.10" fill="#c0c0e6"/>
<rect x="1168.18" y="120.70" width="15.07" height="1.10" fill="#d6d6ef"/>
<rect x="1183.25" y="120.70" width="15.07" height="1.10" fill="#d9d9f0"/>
<rect x="1198.32" y="120.70" width="15.07" height="1.10" fill="#e0e0f3"/>
<rect x="1213.39" y="120.70" width="15.07" height="1.10" fill="#dbdbf1"/>
<rect x="1122.97" y="120.70" width="15.07" height="1.10" fill="#ebebf7"/>
<rect x="670.87" y="122.20" width="15.07" height="1.10" fill="#c1c1e7"/>
<rect x="685.94" y="122.20" width="15.07" height="1.10" fill="#c5c5e8"/>
<rect x="851.71" y="122.20" width="15.07" height="1.10" fill="#cacaea"/>
<rect x="1168.18" y="122.20" width="15.07" height="1.10" fill="#e8e8f6"/>
<rect x="1213.39" y="122.20" width="15.07" height="1.10" fill="#dbdbf1"/>
<rect x="1122.97" y="122.20" width="15.07" height="1.10" fill="#eaeaf7"/>
<rect x="821.57" y="122.20" width="15.07" height="1.10" fill="#dfdff2"/>
<rect x="836.64" y="122.20" width="15.07" height="1.10" fill="#e5e5f5"/>
<rect x="1168.18" y="123.70" width="15.07" height="1.10" fill="#e2e2f4"/>
<rect x="1183.25" y="123.70" width="15.07" height="1.10" fill="#e3e3f4"/>
<rect x="1198.32" y="123.70" width="15.07" height="1.10" fill="#eaeaf7"/>
<rect x="1122.97" y="123.70" width="15.07" height="1.10" fill="#ededf8"/>
<rect x="791.43" y="123.70" width="15.07" height="1.10" fill="#e3e3f4"/>
<rect x="806.50" y="123.70" width="15.07" height="1.10" fill="#e7e7f5"/>
<rect x="670.87" y="125.20" width="15.07" height="1.10" fill="#d7d7ef"/>
<rect x="685.94" y="125.20" width="15.07" height="1.10" fill="#d0d0ed"/>
<rect x="851.71" y="125.20" width="15.07" height="1.10" fill="#e1e1f3"/>
<rect x="670.87" y="126.70" width="15.07" height="1.10" fill="#e3e3f4"/>
<rect x="685.94" y="126.70" width="15.07" height="1.10" fill="#eaeaf7"/>
<rect x="881.85" y="126.70" width="15.07" height="1.10" fill="#e1e1f3"/>
<rect x="896.92" y="126.70" width="15.07" height="1.10" fill="#e3e3f4"/>
<rect x="1168.18" y="126.70" width="15.07" height="1.10" fill="#e4e4f4"/>
<rect x="1183.25" y="126.70" width="15.07" height="1.10" fill="#e5e5f5"/>
<rect x="1198.32" y="126.70" width="15.07" height="1.10" fill="#e9e9f6"/>
<rect x="881.85" y="128.20" width="15.07" height="1.10" fill="#ededf8"/>
<rect x="896.92" y="128.20" width="15.07" height="1.10" fill="#efeff9"/>
<rect x="1183.25" y="128.20" width="15.07" height="1.10" fill="#efeff9"/>
<rect x="1213.39" y="128.20" width="15.07" height="1.10" fill="#ececf7"/>
<rect x="670.87" y="129.70" width="15.07" height="1.10" fill="#d6d6ef"/>
<rect x="881.85" y="129.70" width="15.07" height="1.10" fill="#dbdbf1"/>
<rect x="896.92" y="129.70" width="15.07" height="1.10" fill="#d5d5ee"/>
<rect x="1168.18" y="129.70" width="15.07" height="1.10" fill="#c7c7e9"/>
<rect x="1183.25" y="129.70" width="15.07" height="1.10" fill="#cccceb"/>
<rect x="1198.32" y="129.70" width="15.07" height="1.10" fill="#c3c3e7"/>
<rect x="851.71" y="131.20" width="15.07" height="1.10" fill="#e6e6f5"/>
<rect x="1168.18" y="131.20" width="15.07" height="1.10" fill="#e4e4f4"/>
<rect x="1183.25" y="131.20" width="15.07" height="1.10" fill="#e3e3f4"/>
<rect x="1213.39" y="131.20" width="15.07" height="1.10" fill="#e4e4f4"/>
<rect x="1168.18" y="132.70" width="15.07" height="1.10" fill="#dfdff2"/>
<rect x="1183.25" y="132.70" width="15.07" height="1.10" fill="#e0e0f3"/>
<rect x="1213.39" y="132.70" width="15.07" height="1.10" fill="#e4e4f4"/>
<rect x="670.87" y="134.20" width="15.07" height="1.10" fill="#eeeef8"/>
<rect x="685.94" y="134.20" width="15.07" height="1.10" fill="#eeeef8"/>
<rect x="1168.18" y="134.20" width="15.07" height="1.10" fill="#e6e6f5"/>
<rect x="1198.32" y="134.20" width="15.07" height="1.10" fill="#ececf8"/>
<rect x="1122.97" y="134.20" width="15.07" height="1.10" fill="#ebebf7"/>
<rect x="881.85" y="135.70" width="15.07" height="1.10" fill="#dedef2"/>
<rect x="896.92" y="135.70" width="15.07" height="1.10" fill="#dedef2"/>
<rect x="1168.18" y="135.70" width="15.07" height="1.10" fill="#e8e8f6"/>
<rect x="1183.25" y="135.70" width="15.07" height="1.10" fill="#ededf8"/>
<rect x="1198.32" y="135.70" width="15.07" height="1.10" fill="#eaeaf7"/>
<rect x="1213.39" y="135.70" width="15.07" height="1.10" fill="#e9e9f6"/>
<rect x="851.71" y="137.20" width="15.07" height="1.10" fill="#e9e9f6"/>
<rect x="881.85" y="137.20" width="15.07" height="1.10" fill="#dfdff2"/>
<rect x="896.92" y="137.20" width="15.07" height="1.10" fill="#e1e1f3"/>
<rect x="1168.18" y="137.20" width="15.07" height="1.10" fill="#e4e4f4"/>
<rect x="1213.39" y="137.20" width="15.07" height="1.10" fill="#d7d7ef"/>
<rect x="1168.18" y="138.70" width="15.07" height="1.10" fill="#e0e0f3"/>
<rect x="1183.25" y="138.70" width="15.07" height="1.10" fill="#e3e3f4"/>
<rect x="1198.32" y="138.70" width="15.07" height="1.10" fill="#e4e4f4"/>
<rect x="1213.39" y="138.70" width="15.07" height="1.10" fill="#e2e2f4"/>
<rect x="791.43" y="138.70" width="15.07" height="1.10" fill="#e0e0f3"/>
<rect x="806.50" y="138.70" width="15.07" height="1.10" fill="#dcdcf1"/>
<rect x="851.71" y="140.20" width="15.07" height="1.10" fill="#ebebf7"/>
<rect x="670.87" y="141.70" width="15.07" height="1.10" fill="#bebee5"/>
<rect x="685.94" y="141.70" width="15.07" height="1.10" fill="#c9c9ea"/>
<rect x="881.85" y="141.70" width="15.07" height="1.10" fill="#e1e1f3"/>
<rect x="896.92" y="141.70" width="15.07" height="1.10" fill="#dbdbf1"/>
<rect x="1168.18" y="141.70" width="15.07" height="1.10" fill="#cccceb"/>
<rect x="1183.25" y="141.70" width="15.07" height="1.10" fill="#cccceb"/>
<rect x="1213.39" y="141.70" width="15.07" height="1.10" fill="#c4c4e8"/>
<rect x="1122.97" y="141.70" width="15.07" height="1.10" fill="#e0e0f3"/>
<rect x="1077.76" y="141.70" width="15.07" height="1.10" fill="#e0e0f3"/>
<rect x="791.43" y="141.70" width="15.07" height="1.10" fill="#e5e5f5"/>
<rect x="806.50" y="141.70" width="15.07" height="1.10" fill="#dedef2"/>
<rect x="670.87" y="144.70" width="15.07" height="1.10" fill="#e6e6f5"/>
<rect x="881.85" y="144.70" width="15.07" height="1.10" fill="#dcdcf1"/>
<rect x="896.92" y="144.70" width="15.07" height="1.10" fill="#e1e1f3"/>
<rect x="1168.18" y="144.70" width="15.07" height="1.10" fill="#e6e6f5"/>
<rect x="1198.32" y="144.70" width="15.07" height="1.10" fill="#e7e7f6"/>
<rect x="1213.39" y="144.70" width="15.07" height="1.10" fill="#ededf8"/>
<rect x="791.43" y="144.70" width="15.07" height="1.10" fill="#e3e3f4"/>
<rect x="806.50" y="144.70" width="15.07" height="1.10" fill="#e9e9f6"/>
<rect x="670.87" y="146.20" width="15.07" height="1.10" fill="#e5e5f5"/>
<rect x="685.94" y="146.20" width="15.07" height="1.10" fill="#d9d9f0"/>
<rect x="851.71" y="146.20" width="15.07" height="1.10" fill="#c6c6e8"/>
<rect x="881.85" y="146.20" width="15.07" height="1.10" fill="#eaeaf7"/>
<rect x="896.92" y="146.20" width="15.07" height="1.10" fill="#eaeaf7"/>
<rect x="1168.18" y="146.20" width="15.07" height="1.10" fill="#c5c5e8"/>
<rect x="1183.25" y="146.20" width="15.07" height="1.10" fill="#d9d9f0"/>
<rect x="1198.32" y="146.20" width="15.07" height="1.10" fill="#c8c8e9"/>
<rect x="1213.39" y="146.20" width="15.07" height="1.10" fill="#c3c3e7"/>
<rect x="1077.76" y="146.20" width="15.07" height="1.10" fill="#e3e3f4"/>
<rect x="670.87" y="147.70" width="15.07" height="1.10" fill="#ddddf2"/>
<rect x="685.94" y="147.70" width="15.07" height="1.10" fill="#d1d1ed"/>
<rect x="1168.18" y="147.70" width="15.07" height="1.10" fill="#dbdbf1"/>
<rect x="1183.25" y="147.70" width="15.07" height="1.10" fill="#dfdff2"/>
<rect x="1198.32" y="147.70" width="15.07" height="1.10" fill="#d9d9f0"/>
<rect x="1122.97" y="147.70" width="15.07" height="1.10" fill="#ededf8"/>
<rect x="655.80" y="150.20" width="15.07" height="3.50" fill="#e3e3f4"/>
<rect x="655.80" y="153.70" width="15.07" height="3.50" fill="#e8e8f6"/>
<rect x="670.87" y="150.20" width="15.07" height="3.50" fill="#f4f4fb"/>
<rect x="670.87" y="153.70" width="15.07" height="3.50" fill="#f4f4fb"/>
<rect x="685.94" y="150.20" width="15.07" height="3.50" fill="#f9f9fd"/>
<rect x="685.94" y="153.70" width="15.07" height="3.50" fill="#f9f9fd"/>
<rect x="701.01" y="150.20" width="15.07" height="3.50" fill="#bbbbe4"/>
<rect x="701.01" y="153.70" width="15.07" height="3.50" fill="#aaaadd"/>
<rect x="716.08" y="150.20" width="15.07" height="3.50" fill="#bbbbe4"/>
<rect x="716.08" y="153.70" width="15.07" height="3.50" fill="#b0b0e0"/>
<rect x="731.15" y="150.20" width="15.07" height="3.50" fill="#aaaadd"/>
<rect x="731.15" y="153.70" width="15.07" height="3.50" fill="#9f9fd9"/>
<rect x="746.22" y="150.20" width="15.07" height="3.50" fill="#b5b5e2"/>
<rect x="746.22" y="153.70" width="15.07" height="3.50" fill="#9f9fd9"/>
<rect x="761.29" y="150.20" width="15.07" height="3.50" fill="#b5b5e2"/>
<rect x="761.29" y="153.70" width="15.07" height="3.50" fill="#aaaadd"/>
<rect x="776.36" y="150.20" width="15.07" height="3.50" fill="#d2d2ed"/>
<rect x="776.36" y="153.70" width="15.07" height="3.50" fill="#c6c6e9"/>
<rect x="791.43" y="150.20" width="15.07" height="3.50" fill="#ddddf2"/>
<rect x="791.43" y="153.70" width="15.07" height="3.50" fill="#d2d2ed"/>
<rect x="806.50" y="150.20" width="15.07" height="3.50" fill="#ddddf2"/>
<rect x="806.50" y="153.70" width="15.07" height="3.50" fill="#d2d2ed"/>
<rect x="821.57" y="150.20" width="15.07" height="3.50" fill="#ddddf2"/>
<rect x="821.57" y="153.70" width="15.07" height="3.50" fill="#d2d2ed"/>
<rect x="836.64" y="150.20" width="15.07" height="3.50" fill="#ddddf2"/>
<rect x="836.64" y="153.70" width="15.07" height="3.50" fill="#d7d7ef"/>
<rect x="851.71" y="150.20" width="15.07" height="3.50" fill="#e3e3f4"/>
<rect x="851.71" y="153.70" width="15.07" height="3.50" fill="#cccceb"/>
<rect x="1077.76" y="150.20" width="15.07" height="3.50" fill="#ddddf2"/>
<rect x="1077.76" y="153.70" width="15.07" height="3.50" fill="#d7d7ef"/>
<rect x="1092.83" y="150.20" width="15.07" height="3.50" fill="#e8e8f6"/>
<rect x="1092.83" y="153.70" width="15.07" height="3.50" fill="#e8e8f6"/>
<rect x="1107.90" y="150.20" width="15.07" height="3.50" fill="#f4f4fb"/>
<rect x="1107.90" y="153.70" width="15.07" height="3.50" fill="#f4f4fb"/>
<rect x="1122.97" y="150.20" width="15.07" height="3.50" fill="#0b0b9e"/>
<rect x="1122.97" y="153.70" width="15.07" height="3.50" fill="#00009a"/>
<rect x="1138.04" y="150.20" width="15.07" height="3.50" fill="#6666c2"/>
<rect x="1138.04" y="153.70" width="15.07" height="3.50" fill="#6060c0"/>
<rect x="1153.11" y="150.20" width="15.07" height="3.50" fill="#3e3eb3"/>
<rect x="1153.11" y="153.70" width="15.07" height="3.50" fill="#3333ae"/>
<rect x="1168.18" y="150.20" width="15.07" height="3.50" fill="#5b5bbe"/>
<rect x="1168.18" y="153.70" width="15.07" height="3.50" fill="#4f4fb9"/>
<rect x="1183.25" y="150.20" width="15.07" height="3.50" fill="#9999d7"/>
<rect x="1183.25" y="153.70" width="15.07" height="3.50" fill="#9393d4"/>
<rect x="1198.32" y="150.20" width="15.07" height="3.50" fill="#9f9fd9"/>
<rect x="1198.32" y="153.70" width="15.07" height="3.50" fill="#9999d7"/>
<rect x="1213.39" y="150.20" width="15.07" height="3.50" fill="#9999d7"/>
<rect x="1213.39" y="153.70" width="15.07" height="3.50" fill="#9393d4"/>
<rect x="1168.18" y="160.50" width="15.07" height="1.60" fill="#eeeef8"/>
<rect x="1183.25" y="160.50" width="15.07" height="1.60" fill="#eeeef8"/>
<rect x="1198.32" y="160.50" width="15.07" height="1.60" fill="#eeeef8"/>
<rect x="1213.39" y="160.50" width="15.07" height="1.60" fill="#eeeef8"/>
<rect x="1138.04" y="163.50" width="15.07" height="1.60" fill="#f4f4fb"/>
<rect x="1153.11" y="163.50" width="15.07" height="1.60" fill="#f4f4fb"/>
<rect x="1168.18" y="163.50" width="15.07" height="1.60" fill="#f4f4fb"/>
<rect x="1183.25" y="163.50" width="15.07" height="1.60" fill="#f4f4fb"/>
<rect x="1198.32" y="163.50" width="15.07" height="1.60" fill="#f4f4fb"/>
<rect x="1213.39" y="163.50" width="15.07" height="1.60" fill="#f4f4fb"/>
<rect x="701.01" y="342.60" width="15.07" height="1.60" fill="#eeeef8"/>
<rect x="716.08" y="342.60" width="15.07" height="1.60" fill="#eeeef8"/>
<rect x="731.15" y="342.60" width="15.07" height="1.60" fill="#eeeef8"/>
<rect x="746.22" y="342.60" width="15.07" height="1.60" fill="#eeeef8"/>
<rect x="761.29" y="342.60" width="15.07" height="1.60" fill="#eeeef8"/>
<rect x="776.36" y="342.60" width="15.07" height="1.60" fill="#eeeef8"/>
<rect x="791.43" y="342.60" width="15.07" height="1.60" fill="#eeeef8"/>
<rect x="806.50" y="342.60" width="15.07" height="1.60" fill="#eeeef8"/>
<rect x="821.57" y="342.60" width="15.07" height="1.60" fill="#eeeef8"/>
<rect x="836.64" y="342.60" width="15.07" height="1.60" fill="#eeeef8"/>
<rect x="851.71" y="342.60" width="15.07" height="1.60" fill="#eeeef8"/>
<rect x="1077.76" y="342.60" width="15.07" height="1.60" fill="#f4f4fb"/>
<rect x="1092.83" y="342.60" width="15.07" height="1.60" fill="#f4f4fb"/>
<rect x="1107.90" y="342.60" width="15.07" height="1.60" fill="#f4f4fb"/>
<rect x="1122.97" y="342.60" width="15.07" height="1.60" fill="#e3e3f4"/>
<rect x="1138.04" y="342.60" width="15.07" height="1.60" fill="#e3e3f4"/>
<rect x="1153.11" y="342.60" width="15.07" height="1.60" fill="#e3e3f4"/>
<rect x="1168.18" y="342.60" width="15.07" height="1.60" fill="#e3e3f4"/>
<rect x="1183.25" y="342.60" width="15.07" height="1.60" fill="#e3e3f4"/>
<rect x="1198.32" y="342.60" width="15.07" height="1.60" fill="#e3e3f4"/>
<rect x="1213.39" y="342.60" width="15.07" height="1.60" fill="#e3e3f4"/>
<path d="M746.3 27.4H1165.6M746.3 27.4V35.6M1165.6 27.4V35.3M674.4 35.6H818.4M674.4 35.6V39.2M663.3 39.2H686.6M663.3 39.2V43.1M686.6 39.2V41.6M678.4 41.6H693.5M678.4 41.6V43.1M693.5 41.6V43.1M818.4 35.6V38.3M733.4 38.3H903.5M733.4 38.3V41.2M716.1 41.2H753.6M716.1 41.2V42.2M708.6 42.2H723.6M708.6 42.2V43.1M723.6 42.2V43.1M753.6 41.2V42.0M738.7 42.0H768.9M738.7 42.0V43.1M768.9 42.0V43.1M753.8 42.3V43.1M903.5 38.3V39.7M866.8 39.7H971.7M866.8 39.7V40.4M814.1 40.4H874.4M874.4 40.4V43.1M814.1 40.4V41.3M791.5 41.3H859.3M859.3 41.3V43.1M791.5 41.3V42.3M783.9 42.3H844.3M783.9 42.3V43.1M799.0 42.3V43.1M814.1 42.5V43.1M829.2 42.5V43.1M844.3 42.3V43.1M897.0 39.7V42.6M889.5 42.6H904.6M889.5 42.6V43.1M904.6 42.6V43.1M971.7 39.7V40.5M955.0 40.5H1078.0M985.0 41.0H1046.0M1078.0 40.5V41.6M1060.0 41.6H1116.0M1141.4 35.3H1188.6M1141.4 35.3V38.9M1130.7 38.9H1152.8M1130.7 38.9V43.1M1152.8 38.9V40.7M1145.8 40.7H1160.9M1145.8 40.7V43.1M1160.9 40.7V43.1M1188.6 35.3V38.5M1175.9 38.5H1202.1M1175.9 38.5V43.1M1202.1 38.5V39.9M1191.0 39.9H1213.6M1191.0 39.9V43.1M1213.6 39.9V40.5M1206.1 40.5H1221.2M1206.1 40.5V43.1M1221.2 40.5V43.1" stroke="#000" stroke-width="1.15" fill="none" stroke-linecap="square"/>
<path d="M919 42.6H1040M1040 42.3H1060M1070 42.5H1116M959 42.0H990" stroke="#777" stroke-width="1" fill="none"/>
<defs><linearGradient id="cb" x1="0" y1="1" x2="0" y2="0"><stop offset="0" stop-color="#ffffff"/><stop offset="0.479" stop-color="#00009a"/><stop offset="1" stop-color="#000000"/></linearGradient></defs>
<rect x="1232.50" y="43.10" width="8.20" height="122.00" fill="url(#cb)" />
<text x="1242.60" y="168.90" font-size="8.2" text-anchor="start" fill="#000" >0</text>
<text x="1242.60" y="142.60" font-size="8.2" text-anchor="start" fill="#000" >20</text>
<text x="1242.60" y="116.30" font-size="8.2" text-anchor="start" fill="#000" >40</text>
<text x="1242.60" y="90.00" font-size="8.2" text-anchor="start" fill="#000" >60</text>
<text x="1242.60" y="63.70" font-size="8.2" text-anchor="start" fill="#000" >80</text>
<g font-size="11.4" fill="#111"><text x="668.33" y="362.70" text-anchor="end" transform="rotate(-45 668.33 362.70)">carbapenem</text><text x="683.40" y="362.70" text-anchor="end" transform="rotate(-45 683.40 362.70)">lincosamide antibiotic</text><text x="698.47" y="362.70" text-anchor="end" transform="rotate(-45 698.47 362.70)">streptogramin antibiotic</text><text x="713.54" y="362.70" text-anchor="end" transform="rotate(-45 713.54 362.70)">cephamycin</text><text x="728.62" y="362.70" text-anchor="end" transform="rotate(-45 728.62 362.70)">peptide antibiotic</text><text x="743.68" y="362.70" text-anchor="end" transform="rotate(-45 743.68 362.70)">rifamycin antibiotic</text><text x="758.75" y="362.70" text-anchor="end" transform="rotate(-45 758.75 362.70)">glycylcycline</text><text x="773.82" y="362.70" text-anchor="end" transform="rotate(-45 773.82 362.70)">triclosan</text><text x="788.89" y="362.70" text-anchor="end" transform="rotate(-45 788.89 362.70)">aminocoumarin antibiotic</text><text x="803.96" y="362.70" text-anchor="end" transform="rotate(-45 803.96 362.70)">acridinedye</text><text x="819.03" y="362.70" text-anchor="end" transform="rotate(-45 819.03 362.70)">disinfecting agents and intercalating dyes</text><text x="834.11" y="362.70" text-anchor="end" transform="rotate(-45 834.11 362.70)">monobactam</text><text x="849.17" y="362.70" text-anchor="end" transform="rotate(-45 849.17 362.70)">penem</text><text x="864.24" y="362.70" text-anchor="end" transform="rotate(-45 864.24 362.70)">diaminopyrimidine antibiotic</text><text x="879.31" y="362.70" text-anchor="end" transform="rotate(-45 879.31 362.70)">glycopeptide antibiotic</text><text x="894.38" y="362.70" text-anchor="end" transform="rotate(-45 894.38 362.70)">oxazolidinone antibiotic</text><text x="909.45" y="362.70" text-anchor="end" transform="rotate(-45 909.45 362.70)">pleuromutilin antibiotic</text><text x="924.52" y="362.70" text-anchor="end" transform="rotate(-45 924.52 362.70)">antibacterial free fatty acids</text><text x="939.60" y="362.70" text-anchor="end" transform="rotate(-45 939.60 362.70)">bicyclomycin</text><text x="954.66" y="362.70" text-anchor="end" transform="rotate(-45 954.66 362.70)">isoniazid</text><text x="969.73" y="362.70" text-anchor="end" transform="rotate(-45 969.73 362.70)">polyamine antibiotic</text><text x="984.80" y="362.70" text-anchor="end" transform="rotate(-45 984.80 362.70)">fusidic acid</text><text x="999.88" y="362.70" text-anchor="end" transform="rotate(-45 999.88 362.70)">mupirocin</text><text x="1014.94" y="362.70" text-anchor="end" transform="rotate(-45 1014.94 362.70)">nitrofuran antibiotic</text><text x="1030.01" y="362.70" text-anchor="end" transform="rotate(-45 1030.01 362.70)">nitroimidazole antibiotic</text><text x="1045.09" y="362.70" text-anchor="end" transform="rotate(-45 1045.09 362.70)">elfamycin antibiotic</text><text x="1060.15" y="362.70" text-anchor="end" transform="rotate(-45 1060.15 362.70)">benzalkonium chloride</text><text x="1075.22" y="362.70" text-anchor="end" transform="rotate(-45 1075.22 362.70)">rhodamine</text><text x="1090.30" y="362.70" text-anchor="end" transform="rotate(-45 1090.30 362.70)">nucleoside antibiotic</text><text x="1105.37" y="362.70" text-anchor="end" transform="rotate(-45 1105.37 362.70)">fosfomycin</text><text x="1120.43" y="362.70" text-anchor="end" transform="rotate(-45 1120.43 362.70)">sulfonamide antibiotic</text><text x="1135.50" y="362.70" text-anchor="end" transform="rotate(-45 1135.50 362.70)">fluoroquinolone antibiotic</text><text x="1150.58" y="362.70" text-anchor="end" transform="rotate(-45 1150.58 362.70)">cephalosporin</text><text x="1165.64" y="362.70" text-anchor="end" transform="rotate(-45 1165.64 362.70)">penam</text><text x="1180.71" y="362.70" text-anchor="end" transform="rotate(-45 1180.71 362.70)">tetracycline antibiotic</text><text x="1195.78" y="362.70" text-anchor="end" transform="rotate(-45 1195.78 362.70)">phenicol antibiotic</text><text x="1210.86" y="362.70" text-anchor="end" transform="rotate(-45 1210.86 362.70)">aminoglycoside antibiotic</text><text x="1225.92" y="362.70" text-anchor="end" transform="rotate(-45 1225.92 362.70)">macrolide antibiotic</text><text x="643.65" y="362.50" text-anchor="end" font-weight="bold" transform="rotate(-45 643.65 362.50)">Type</text><text x="656.25" y="363.30" text-anchor="end" font-weight="bold" transform="rotate(-45 656.25 363.30)">Phylum</text></g>
<!-- panel c -->
<path d="M120.6 540.9V613.5H574.7" fill="none" stroke="#1a1a1a" stroke-width="1.2"/>
<line x1="117.00" y1="610.50" x2="120.60" y2="610.50" stroke="#333" stroke-width="1.1" />
<text x="115.20" y="615.00" font-size="11" text-anchor="end" fill="#222" >0</text>
<line x1="117.00" y1="590.67" x2="120.60" y2="590.67" stroke="#333" stroke-width="1.1" />
<text x="115.20" y="595.17" font-size="11" text-anchor="end" fill="#222" >50</text>
<line x1="117.00" y1="570.85" x2="120.60" y2="570.85" stroke="#333" stroke-width="1.1" />
<text x="115.20" y="575.35" font-size="11" text-anchor="end" fill="#222" >100</text>
<line x1="117.00" y1="551.02" x2="120.60" y2="551.02" stroke="#333" stroke-width="1.1" />
<text x="115.20" y="555.52" font-size="11" text-anchor="end" fill="#222" >150</text>
<line x1="134.80" y1="613.50" x2="134.80" y2="617.30" stroke="#222" stroke-width="1.1" />
<line x1="158.42" y1="613.50" x2="158.42" y2="617.30" stroke="#222" stroke-width="1.1" />
<line x1="182.03" y1="613.50" x2="182.03" y2="617.30" stroke="#222" stroke-width="1.1" />
<line x1="205.65" y1="613.50" x2="205.65" y2="617.30" stroke="#222" stroke-width="1.1" />
<line x1="229.27" y1="613.50" x2="229.27" y2="617.30" stroke="#222" stroke-width="1.1" />
<line x1="252.89" y1="613.50" x2="252.89" y2="617.30" stroke="#222" stroke-width="1.1" />
<line x1="276.50" y1="613.50" x2="276.50" y2="617.30" stroke="#222" stroke-width="1.1" />
<line x1="300.12" y1="613.50" x2="300.12" y2="617.30" stroke="#222" stroke-width="1.1" />
<line x1="323.74" y1="613.50" x2="323.74" y2="617.30" stroke="#222" stroke-width="1.1" />
<line x1="347.35" y1="613.50" x2="347.35" y2="617.30" stroke="#222" stroke-width="1.1" />
<line x1="370.97" y1="613.50" x2="370.97" y2="617.30" stroke="#222" stroke-width="1.1" />
<line x1="394.59" y1="613.50" x2="394.59" y2="617.30" stroke="#222" stroke-width="1.1" />
<line x1="418.20" y1="613.50" x2="418.20" y2="617.30" stroke="#222" stroke-width="1.1" />
<line x1="441.82" y1="613.50" x2="441.82" y2="617.30" stroke="#222" stroke-width="1.1" />
<line x1="465.44" y1="613.50" x2="465.44" y2="617.30" stroke="#222" stroke-width="1.1" />
<line x1="489.06" y1="613.50" x2="489.06" y2="617.30" stroke="#222" stroke-width="1.1" />
<line x1="512.67" y1="613.50" x2="512.67" y2="617.30" stroke="#222" stroke-width="1.1" />
<line x1="536.29" y1="613.50" x2="536.29" y2="617.30" stroke="#222" stroke-width="1.1" />
<line x1="559.91" y1="613.50" x2="559.91" y2="617.30" stroke="#222" stroke-width="1.1" />
<rect x="126.60" y="544.30" width="16.40" height="64.50" fill="#0399CD" />
<rect x="126.60" y="608.80" width="16.40" height="1.10" fill="#EB6E6E" />
<rect x="126.60" y="609.90" width="16.40" height="0.80" fill="#8CBE6A" />
<rect x="150.22" y="556.20" width="16.40" height="54.50" fill="#0399CD" />
<rect x="173.83" y="594.20" width="16.40" height="12.80" fill="#EC1289" />
<rect x="173.83" y="607.00" width="16.40" height="1.40" fill="#EB6E6E" />
<rect x="173.83" y="608.40" width="16.40" height="2.30" fill="#8CBE6A" />
<rect x="197.45" y="594.80" width="16.40" height="15.10" fill="#0399CD" />
<rect x="197.45" y="609.90" width="16.40" height="0.80" fill="#EB6E6E" />
<rect x="221.07" y="601.00" width="16.40" height="6.30" fill="#0399CD" />
<rect x="221.07" y="607.30" width="16.40" height="3.00" fill="#EB6E6E" />
<rect x="221.07" y="610.30" width="16.40" height="0.40" fill="#EC1289" />
<rect x="244.69" y="603.40" width="16.40" height="7.10" fill="#0399CD" />
<rect x="268.30" y="607.30" width="16.40" height="1.70" fill="#0399CD" />
<rect x="268.30" y="609.00" width="16.40" height="1.50" fill="#EB6E6E" />
<rect x="291.92" y="608.20" width="16.40" height="1.30" fill="#0399CD" />
<rect x="291.92" y="609.50" width="16.40" height="1.00" fill="#EB6E6E" />
<rect x="315.54" y="609.20" width="16.40" height="1.50" fill="#EB6E6E" />
<rect x="339.15" y="609.50" width="16.40" height="1.20" fill="#0399CD" />
<rect x="362.77" y="609.50" width="16.40" height="1.20" fill="#0399CD" />
<rect x="386.39" y="609.20" width="16.40" height="1.50" fill="#EB6E6E" />
<rect x="410.00" y="609.90" width="16.40" height="0.80" fill="#0399CD" />
<rect x="433.62" y="609.90" width="16.40" height="0.80" fill="#8CBE6A" />
<rect x="457.24" y="609.90" width="16.40" height="0.80" fill="#0399CD" />
<rect x="480.86" y="609.90" width="16.40" height="0.80" fill="#0399CD" />
<rect x="504.47" y="609.90" width="16.40" height="0.80" fill="#8CBE6A" />
<rect x="528.09" y="609.90" width="16.40" height="0.80" fill="#0399CD" />
<rect x="551.71" y="609.90" width="16.40" height="0.80" fill="#EB6E6E" />
<text x="84.00" y="584.30" font-size="14" text-anchor="middle" font-weight="bold" fill="#000" transform="rotate(-90 84.0 584.3)">count</text>
<text x="239.00" y="569.00" font-size="11.8" text-anchor="start" font-weight="bold" fill="#000" >Log (count)</text>
<circle cx="322.40" cy="564.80" r="2.50" fill="#7b7b7b" />
<text x="344.40" y="569.20" font-size="10.5" text-anchor="middle" fill="#222" >0</text>
<circle cx="367.30" cy="564.80" r="5.85" fill="#7b7b7b" />
<text x="389.30" y="569.20" font-size="10.5" text-anchor="middle" fill="#222" >1</text>
<circle cx="412.00" cy="564.80" r="7.10" fill="#7b7b7b" />
<text x="434.00" y="569.20" font-size="10.5" text-anchor="middle" fill="#222" >2</text>
<circle cx="457.00" cy="564.80" r="7.90" fill="#7b7b7b" />
<text x="479.00" y="569.20" font-size="10.5" text-anchor="middle" fill="#222" >3</text>
<circle cx="501.90" cy="564.80" r="8.90" fill="#7b7b7b" />
<text x="523.90" y="569.20" font-size="10.5" text-anchor="middle" fill="#222" >4</text>
<circle cx="546.50" cy="564.80" r="9.90" fill="#7b7b7b" />
<text x="568.50" y="569.20" font-size="10.5" text-anchor="middle" fill="#222" >5</text>
<path d="M134.80 623.3V776.6M158.42 623.3V776.6M182.03 623.3V776.6M205.65 623.3V776.6M229.27 623.3V776.6M252.89 623.3V776.6M276.50 623.3V776.6M300.12 623.3V776.6M323.74 623.3V776.6M347.35 623.3V776.6M370.97 623.3V776.6M394.59 623.3V776.6M418.20 623.3V776.6M441.82 623.3V776.6M465.44 623.3V776.6M489.06 623.3V776.6M512.67 623.3V776.6M536.29 623.3V776.6M559.91 623.3V776.6M121.2 637.5H573.6M121.2 662.5H573.6M121.2 687.5H573.6M121.2 712.5H573.6M121.2 737.5H573.6M121.2 762.4H573.6" stroke="#ebebeb" stroke-width="1.1" fill="none"/>
<circle cx="134.80" cy="762.40" r="9.50" fill="#0D9ED5" fill-opacity="0.6"/>
<circle cx="158.42" cy="762.40" r="9.20" fill="#0D9ED5" fill-opacity="0.6"/>
<circle cx="205.65" cy="762.40" r="8.70" fill="#0D9ED5" fill-opacity="0.6"/>
<circle cx="229.27" cy="762.40" r="7.70" fill="#0D9ED5" fill-opacity="0.6"/>
<circle cx="252.89" cy="762.40" r="8.10" fill="#0D9ED5" fill-opacity="0.6"/>
<circle cx="276.50" cy="762.40" r="6.50" fill="#0D9ED5" fill-opacity="0.6"/>
<circle cx="300.12" cy="762.40" r="5.70" fill="#0D9ED5" fill-opacity="0.6"/>
<circle cx="347.35" cy="762.40" r="5.00" fill="#0D9ED5" fill-opacity="0.6"/>
<circle cx="370.97" cy="762.40" r="5.00" fill="#0D9ED5" fill-opacity="0.6"/>
<circle cx="418.20" cy="762.40" r="2.60" fill="#0D9ED5" fill-opacity="0.6"/>
<circle cx="465.44" cy="762.40" r="2.60" fill="#0D9ED5" fill-opacity="0.6"/>
<circle cx="489.06" cy="762.40" r="2.60" fill="#0D9ED5" fill-opacity="0.6"/>
<circle cx="536.29" cy="762.40" r="2.60" fill="#0D9ED5" fill-opacity="0.6"/>
<circle cx="134.80" cy="737.50" r="2.50" fill="#E31785" fill-opacity="0.6"/>
<circle cx="182.03" cy="737.50" r="8.50" fill="#E31785" fill-opacity="0.6"/>
<circle cx="205.65" cy="737.50" r="2.50" fill="#E31785" fill-opacity="0.6"/>
<circle cx="229.27" cy="737.50" r="2.50" fill="#E31785" fill-opacity="0.6"/>
<circle cx="182.03" cy="712.50" r="5.70" fill="#E66666" fill-opacity="0.6"/>
<circle cx="229.27" cy="712.50" r="6.80" fill="#E66666" fill-opacity="0.6"/>
<circle cx="276.50" cy="712.50" r="5.10" fill="#E66666" fill-opacity="0.6"/>
<circle cx="300.12" cy="712.50" r="5.10" fill="#E66666" fill-opacity="0.6"/>
<circle cx="323.74" cy="712.50" r="5.10" fill="#E66666" fill-opacity="0.6"/>
<circle cx="394.59" cy="712.50" r="5.30" fill="#E66666" fill-opacity="0.6"/>
<circle cx="559.91" cy="712.50" r="2.60" fill="#E66666" fill-opacity="0.6"/>
<circle cx="182.03" cy="687.50" r="6.20" fill="#A0D078" fill-opacity="0.6"/>
<circle cx="134.80" cy="662.50" r="5.30" fill="#3FA53C" fill-opacity="0.6"/>
<circle cx="441.82" cy="662.50" r="2.60" fill="#3FA53C" fill-opacity="0.6"/>
<circle cx="512.67" cy="662.50" r="2.60" fill="#3FA53C" fill-opacity="0.6"/>
<circle cx="182.03" cy="637.50" r="2.40" fill="#3FA882" fill-opacity="0.6"/>
<path d="M121.2 623.3H573.6V776.6H121.2Z" fill="none" stroke="#555" stroke-width="1.2"/>
<line x1="121.20" y1="622.70" x2="121.20" y2="777.20" stroke="#808080" stroke-width="1.3" />
<line x1="116.70" y1="637.50" x2="121.20" y2="637.50" stroke="#222" stroke-width="1.1" />
<line x1="116.70" y1="662.50" x2="121.20" y2="662.50" stroke="#222" stroke-width="1.1" />
<line x1="116.70" y1="687.50" x2="121.20" y2="687.50" stroke="#222" stroke-width="1.1" />
<line x1="116.70" y1="712.50" x2="121.20" y2="712.50" stroke="#222" stroke-width="1.1" />
<line x1="116.70" y1="737.50" x2="121.20" y2="737.50" stroke="#222" stroke-width="1.1" />
<line x1="116.70" y1="762.40" x2="121.20" y2="762.40" stroke="#222" stroke-width="1.1" />
<line x1="134.80" y1="776.60" x2="134.80" y2="780.60" stroke="#222" stroke-width="1.1" />
<line x1="158.42" y1="776.60" x2="158.42" y2="780.60" stroke="#222" stroke-width="1.1" />
<line x1="182.03" y1="776.60" x2="182.03" y2="780.60" stroke="#222" stroke-width="1.1" />
<line x1="205.65" y1="776.60" x2="205.65" y2="780.60" stroke="#222" stroke-width="1.1" />
<line x1="229.27" y1="776.60" x2="229.27" y2="780.60" stroke="#222" stroke-width="1.1" />
<line x1="252.89" y1="776.60" x2="252.89" y2="780.60" stroke="#222" stroke-width="1.1" />
<line x1="276.50" y1="776.60" x2="276.50" y2="780.60" stroke="#222" stroke-width="1.1" />
<line x1="300.12" y1="776.60" x2="300.12" y2="780.60" stroke="#222" stroke-width="1.1" />
<line x1="323.74" y1="776.60" x2="323.74" y2="780.60" stroke="#222" stroke-width="1.1" />
<line x1="347.35" y1="776.60" x2="347.35" y2="780.60" stroke="#222" stroke-width="1.1" />
<line x1="370.97" y1="776.60" x2="370.97" y2="780.60" stroke="#222" stroke-width="1.1" />
<line x1="394.59" y1="776.60" x2="394.59" y2="780.60" stroke="#222" stroke-width="1.1" />
<line x1="418.20" y1="776.60" x2="418.20" y2="780.60" stroke="#222" stroke-width="1.1" />
<line x1="441.82" y1="776.60" x2="441.82" y2="780.60" stroke="#222" stroke-width="1.1" />
<line x1="465.44" y1="776.60" x2="465.44" y2="780.60" stroke="#222" stroke-width="1.1" />
<line x1="489.06" y1="776.60" x2="489.06" y2="780.60" stroke="#222" stroke-width="1.1" />
<line x1="512.67" y1="776.60" x2="512.67" y2="780.60" stroke="#222" stroke-width="1.1" />
<line x1="536.29" y1="776.60" x2="536.29" y2="780.60" stroke="#222" stroke-width="1.1" />
<line x1="559.91" y1="776.60" x2="559.91" y2="780.60" stroke="#222" stroke-width="1.1" />
<text x="84.00" y="708.60" font-size="14" text-anchor="middle" font-weight="bold" fill="#000" transform="rotate(-90 84.0 708.6)">phylum</text>
<g font-size="11.2" fill="#111"><text x="139.10" y="786.70" text-anchor="end" transform="rotate(-45 139.10 786.70)">bacteriocin</text><text x="162.72" y="786.70" text-anchor="end" transform="rotate(-45 162.72 786.70)">sactipeptide</text><text x="186.33" y="786.70" text-anchor="end" transform="rotate(-45 186.33 786.70)">arylpolyene</text><text x="209.95" y="786.70" text-anchor="end" transform="rotate(-45 209.95 786.70)">lantipeptide</text><text x="233.57" y="786.70" text-anchor="end" transform="rotate(-45 233.57 786.70)">terpene</text><text x="257.19" y="786.70" text-anchor="end" transform="rotate(-45 257.19 786.70)">lassopeptide</text><text x="280.80" y="786.70" text-anchor="end" transform="rotate(-45 280.80 786.70)">siderophore</text><text x="304.42" y="786.70" text-anchor="end" transform="rotate(-45 304.42 786.70)">thiopeptide</text><text x="328.04" y="786.70" text-anchor="end" transform="rotate(-45 328.04 786.70)">resorcinol</text><text x="351.65" y="786.70" text-anchor="end" transform="rotate(-45 351.65 786.70)">proteusin</text><text x="375.27" y="786.70" text-anchor="end" transform="rotate(-45 375.27 786.70)">nrps</text><text x="398.89" y="786.70" text-anchor="end" transform="rotate(-45 398.89 786.70)">ladderane</text><text x="422.50" y="786.70" text-anchor="end" transform="rotate(-45 422.50 786.70)">t3pks</text><text x="446.12" y="786.70" text-anchor="end" transform="rotate(-45 446.12 786.70)">t2pks</text><text x="469.74" y="786.70" text-anchor="end" transform="rotate(-45 469.74 786.70)">oligosaccharide</text><text x="493.36" y="786.70" text-anchor="end" transform="rotate(-45 493.36 786.70)">phosphonate</text><text x="516.97" y="786.70" text-anchor="end" transform="rotate(-45 516.97 786.70)">phenazine</text><text x="540.59" y="786.70" text-anchor="end" transform="rotate(-45 540.59 786.70)">other</text><text x="564.21" y="786.70" text-anchor="end" transform="rotate(-45 564.21 786.70)">hserlactone</text></g>
<!-- panel d -->
<text x="708.40" y="559.60" font-size="11" text-anchor="start" font-weight="bold" fill="#000" >Source</text>
<circle cx="770.20" cy="539.40" r="9.80" fill="#66A61E" />
<text x="787.60" y="542.00" font-size="9.9" text-anchor="start" font-style="italic" fill="#111" >Ligilactobacillus salivarius</text>
<circle cx="920.00" cy="539.40" r="9.80" fill="#6A67CF" />
<text x="937.40" y="542.00" font-size="9.9" text-anchor="start" font-style="italic" fill="#111" >Lactobacillus gasseri</text>
<circle cx="1063.00" cy="539.40" r="9.80" fill="#1B9E77" />
<text x="1080.40" y="542.00" font-size="9.9" text-anchor="start" font-style="italic" fill="#111" >Enterococcus faecalis</text>
<circle cx="770.20" cy="570.70" r="9.80" fill="#D95F02" />
<text x="787.60" y="573.30" font-size="9.9" text-anchor="start" font-style="italic" fill="#111" >Enterococcus faecium</text>
<circle cx="920.00" cy="570.70" r="9.80" fill="#E7298A" />
<text x="937.40" y="573.30" font-size="9.9" text-anchor="start" font-style="italic" fill="#111" >Lactobacillus johnsonii</text>
<path d="M799.6 716.8L771.5 608.1M799.6 716.8L824.4 606.7M799.6 716.8L868.4 629.0M799.6 716.8L721.9 636.0M799.6 716.8L763.7 650.5M799.6 716.8L811.3 642.1M799.6 716.8L856.4 669.4M799.6 716.8L902.4 677.8M799.6 716.8L694.8 677.8M799.6 716.8L736.6 688.9M799.6 716.8L912.2 707.6M799.6 716.8L697.6 723.7M799.6 716.8L887.9 734.3M799.6 716.8L738.9 753.0M799.6 716.8L895.4 763.3M799.6 716.8L698.2 769.7M799.6 716.8L844.5 771.7M799.6 716.8L793.7 785.6M799.6 716.8L735.8 799.5M799.6 716.8L866.2 807.9M799.6 716.8L818.3 815.7M799.6 716.8L772.0 824.6M1007.8 606.2L964.0 650.7M1007.8 606.2L1053.7 648.5M1007.8 606.2L1008.6 695.3M964.0 650.7L1053.7 648.5M964.0 650.7L1008.6 695.3M1053.7 648.5L1008.6 695.3M1122.8 606.2L1120.6 679.2M1078.0 739.1L1076.0 810.7" stroke="#a0a0a0" stroke-width="2.1" fill="none"/>
<circle cx="771.50" cy="608.10" r="11.80" fill="#66A61E" />
<circle cx="824.40" cy="606.70" r="11.80" fill="#66A61E" />
<circle cx="868.40" cy="629.00" r="11.80" fill="#66A61E" />
<circle cx="721.90" cy="636.00" r="11.80" fill="#66A61E" />
<circle cx="763.70" cy="650.50" r="11.80" fill="#66A61E" />
<circle cx="811.30" cy="642.10" r="11.80" fill="#66A61E" />
<circle cx="856.40" cy="669.40" r="11.80" fill="#66A61E" />
<circle cx="902.40" cy="677.80" r="11.80" fill="#66A61E" />
<circle cx="694.80" cy="677.80" r="11.80" fill="#66A61E" />
<circle cx="736.60" cy="688.90" r="11.80" fill="#66A61E" />
<circle cx="912.20" cy="707.60" r="11.80" fill="#66A61E" />
<circle cx="697.60" cy="723.70" r="11.80" fill="#66A61E" />
<circle cx="887.90" cy="734.30" r="11.80" fill="#66A61E" />
<circle cx="738.90" cy="753.00" r="11.80" fill="#66A61E" />
<circle cx="895.40" cy="763.30" r="11.80" fill="#66A61E" />
<circle cx="698.20" cy="769.70" r="11.80" fill="#66A61E" />
<circle cx="844.50" cy="771.70" r="11.80" fill="#66A61E" />
<circle cx="793.70" cy="785.60" r="11.80" fill="#66A61E" />
<circle cx="735.80" cy="799.50" r="11.80" fill="#66A61E" />
<circle cx="866.20" cy="807.90" r="11.80" fill="#66A61E" />
<circle cx="818.30" cy="815.70" r="11.80" fill="#66A61E" />
<circle cx="772.00" cy="824.60" r="11.80" fill="#66A61E" />
<circle cx="799.60" cy="716.80" r="11.50" fill="#66A61E" stroke="#000" stroke-width="2.4"/>
<circle cx="1007.80" cy="606.20" r="11.10" fill="#6A67CF" stroke="#000" stroke-width="2.4"/>
<circle cx="964.00" cy="650.70" r="11.10" fill="#7470B8" stroke="#000" stroke-width="2.4"/>
<circle cx="1053.70" cy="648.50" r="11.10" fill="#7470B8" stroke="#000" stroke-width="2.4"/>
<circle cx="1008.60" cy="695.30" r="11.80" fill="#E7298A" />
<circle cx="1122.80" cy="606.20" r="11.80" fill="#1B9E77" />
<circle cx="1120.60" cy="679.20" r="11.10" fill="#1B9E77" stroke="#000" stroke-width="2.4"/>
<circle cx="1078.00" cy="739.10" r="11.80" fill="#D95F02" />
<circle cx="1076.00" cy="810.70" r="11.10" fill="#D95F02" stroke="#000" stroke-width="2.4"/>
<g font-size="6.75" text-anchor="middle" fill="#000"><text x="771.50" y="610.50">CNGBCC1951988</text><text x="824.40" y="609.10">CNGBCC1951949</text><text x="868.40" y="631.40">CNGBCC1952250</text><text x="721.90" y="638.40">CNGBCC1951653</text><text x="763.70" y="652.90">CNGBCC1952294</text><text x="811.30" y="644.50">CNGBCC1951945</text><text x="856.40" y="671.80">CNGBCC1952703</text><text x="902.40" y="680.20">CNGBCC1951975</text><text x="694.80" y="680.20">CNGBCC1952115D</text><text x="736.60" y="691.30">CNGBCC1951954</text><text x="912.20" y="710.00">CNGBCC1952014</text><text x="697.60" y="726.10">CNGBCC1952073</text><text x="887.90" y="736.70">CNGBCC1952167</text><text x="738.90" y="755.40">CNGBCC1951953</text><text x="895.40" y="765.70">CNGBCC1952304D</text><text x="698.20" y="772.10">CNGBCC1951990</text><text x="844.50" y="774.10">CNGBCC1952468D</text><text x="793.70" y="788.00">CNGBCC1951987</text><text x="735.80" y="801.90">CNGBCC1951862</text><text x="866.20" y="810.30">CNGBCC1952281</text><text x="818.30" y="818.10">CNGBCC1952244</text><text x="772.00" y="827.00">CNGBCC1952295D</text><text x="799.3" y="714.4">Salivaricin CRL1328 alpha peptide /</text><text x="799.3" y="723.6">salivaricin CRL1328 beta peptide BGC</text><text x="1007.80" y="608.60">Gassericin T BGC</text><text x="964.00" y="653.10">Gassericin E BGC</text><text x="1053.70" y="650.90">Gassericin-T BGC</text><text x="1008.60" y="697.70">CNGBCC1952162</text><text x="1122.80" y="608.60">CNGBCC1952704</text><text x="1120.60" y="681.60">Cytolysin ClyLl / cytolysin ClyLs BGC</text><text x="1078.00" y="741.50">CNGBCC1952522</text><text x="1076.00" y="813.10">Enterocin A BGC</text></g>
</svg>
</body></html>
